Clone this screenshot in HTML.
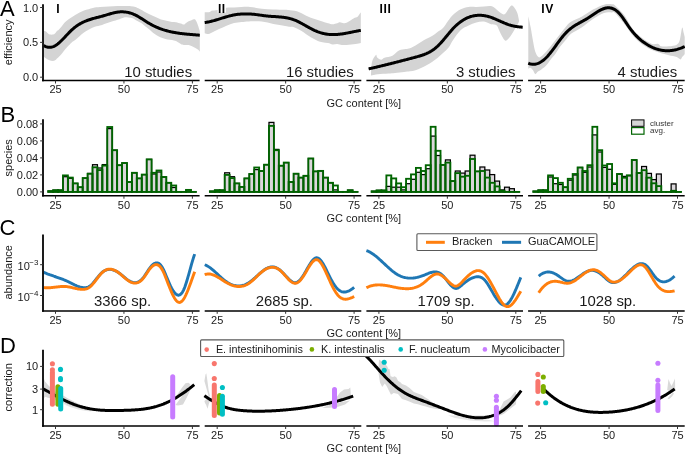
<!DOCTYPE html>
<html><head><meta charset="utf-8"><style>
html,body{margin:0;padding:0;background:#fff;}
body{width:685px;height:454px;overflow:hidden;}
svg{display:block;} svg{will-change:transform;}
</style></head><body>
<svg width="685" height="454" viewBox="0 0 685 454" font-family='&quot;Liberation Sans&quot;, sans-serif'>
<rect width="685" height="454" fill="#fff"/>
<path d="M43.50,30.50 C43.92,30.67 45.25,31.00 46.00,31.50 C46.75,32.00 47.33,32.98 48.00,33.50 C48.67,34.02 49.17,34.42 50.00,34.60 C50.83,34.78 52.17,34.78 53.00,34.60 C53.83,34.42 54.33,34.10 55.00,33.50 C55.67,32.90 56.42,31.58 57.00,31.00 C57.58,30.42 57.67,30.83 58.50,30.00 C59.33,29.17 60.68,27.48 62.00,26.00 C63.32,24.52 64.20,22.93 66.40,21.10 C68.60,19.27 72.27,16.75 75.20,15.00 C78.13,13.25 81.05,11.78 84.00,10.60 C86.95,9.42 90.23,8.50 92.90,7.90 C95.57,7.30 97.35,7.22 100.00,7.00 C102.65,6.78 105.87,6.77 108.80,6.60 C111.73,6.43 114.67,6.10 117.60,6.00 C120.53,5.90 124.17,5.97 126.40,6.00 C128.63,6.03 129.48,6.05 131.00,6.20 C132.52,6.35 134.28,6.55 135.50,6.90 C136.72,7.25 137.35,7.83 138.30,8.30 C139.25,8.77 140.25,9.18 141.20,9.70 C142.15,10.22 143.05,10.87 144.00,11.40 C144.95,11.93 145.90,12.38 146.90,12.90 C147.90,13.42 148.75,13.88 150.00,14.50 C151.25,15.12 152.93,15.95 154.40,16.60 C155.87,17.25 157.33,17.82 158.80,18.40 C160.27,18.98 161.73,19.67 163.20,20.10 C164.67,20.53 166.13,20.70 167.60,21.00 C169.07,21.30 170.60,21.70 172.00,21.90 C173.40,22.10 174.53,21.92 176.00,22.20 C177.47,22.48 179.50,23.20 180.80,23.60 C182.10,24.00 182.98,24.67 183.80,24.60 C184.62,24.53 184.90,23.77 185.70,23.20 C186.50,22.63 187.63,21.70 188.60,21.20 C189.57,20.70 190.60,20.52 191.50,20.20 C192.40,19.88 193.35,19.37 194.00,19.30 C194.65,19.23 194.85,19.08 195.40,19.80 C195.95,20.52 196.65,21.98 197.30,23.60 C197.95,25.22 198.88,28.20 199.30,29.50 C199.72,30.80 199.72,31.08 199.80,31.40 L199.80,51.30 C199.72,51.30 199.55,51.55 199.30,51.30 C199.05,51.05 198.95,50.37 198.30,49.80 C197.65,49.23 196.53,48.53 195.40,47.90 C194.27,47.27 192.63,46.48 191.50,46.00 C190.37,45.52 189.88,45.17 188.60,45.00 C187.32,44.83 185.10,45.17 183.80,45.00 C182.50,44.83 182.10,44.65 180.80,44.00 C179.50,43.35 177.47,41.77 176.00,41.10 C174.53,40.43 173.40,40.25 172.00,40.00 C170.60,39.75 169.07,39.90 167.60,39.60 C166.13,39.30 164.67,38.72 163.20,38.20 C161.73,37.68 160.27,37.23 158.80,36.50 C157.33,35.77 155.87,34.88 154.40,33.80 C152.93,32.72 151.25,31.05 150.00,30.00 C148.75,28.95 147.90,28.30 146.90,27.50 C145.90,26.70 144.95,25.97 144.00,25.20 C143.05,24.43 142.15,23.52 141.20,22.90 C140.25,22.28 139.25,21.98 138.30,21.50 C137.35,21.02 136.45,20.53 135.50,20.00 C134.55,19.47 133.80,18.70 132.60,18.30 C131.40,17.90 129.73,17.73 128.30,17.60 C126.87,17.47 125.78,17.13 124.00,17.50 C122.22,17.87 120.13,18.97 117.60,19.80 C115.07,20.63 111.73,21.53 108.80,22.50 C105.87,23.47 102.65,24.77 100.00,25.60 C97.35,26.43 95.57,26.35 92.90,27.50 C90.23,28.65 86.95,30.42 84.00,32.50 C81.05,34.58 77.20,38.38 75.20,40.00 C73.20,41.62 73.40,40.95 72.00,42.20 C70.60,43.45 68.55,45.53 66.80,47.50 C65.05,49.47 63.03,52.23 61.50,54.00 C59.97,55.77 58.83,56.97 57.60,58.10 C56.37,59.23 55.57,60.50 54.10,60.80 C52.63,61.10 50.57,60.63 48.80,59.90 C47.03,59.17 44.38,56.98 43.50,56.40 Z" fill="#d4d4d4" stroke="none"/>
<path d="M204.70,12.20 C205.55,12.15 208.67,12.15 209.80,11.90 C210.93,11.65 210.20,11.02 211.50,10.70 C212.80,10.38 215.12,10.50 217.60,10.00 C220.08,9.50 223.67,8.13 226.40,7.70 C229.13,7.27 231.48,7.52 234.00,7.40 C236.52,7.28 238.83,7.08 241.50,7.00 C244.17,6.92 246.63,6.62 250.00,6.90 C253.37,7.18 257.80,8.27 261.70,8.70 C265.60,9.13 269.52,9.32 273.40,9.50 C277.28,9.68 282.23,9.67 285.00,9.80 C287.77,9.93 288.40,10.13 290.00,10.30 C291.60,10.47 293.05,10.48 294.60,10.80 C296.15,11.12 297.75,11.58 299.30,12.20 C300.85,12.82 302.37,13.73 303.90,14.50 C305.43,15.27 306.97,16.12 308.50,16.80 C310.03,17.48 311.55,18.07 313.10,18.60 C314.65,19.13 316.25,19.53 317.80,20.00 C319.35,20.47 320.70,20.87 322.40,21.40 C324.10,21.93 326.30,22.73 328.00,23.20 C329.70,23.67 331.07,24.20 332.60,24.20 C334.13,24.20 335.97,23.52 337.20,23.20 C338.43,22.88 338.92,22.30 340.00,22.30 C341.08,22.30 342.62,23.12 343.70,23.20 C344.78,23.28 345.27,23.33 346.50,22.80 C347.73,22.27 349.87,20.77 351.10,20.00 C352.33,19.23 352.82,18.73 353.90,18.20 C354.98,17.67 356.60,17.58 357.60,16.80 C358.60,16.02 359.37,14.20 359.90,13.50 C360.43,12.80 360.65,12.75 360.80,12.60 L360.80,43.10 C359.95,43.25 357.32,43.77 355.70,44.00 C354.08,44.23 352.63,44.33 351.10,44.50 C349.57,44.67 348.03,44.92 346.50,45.00 C344.97,45.08 343.45,45.17 341.90,45.00 C340.35,44.83 338.75,44.08 337.20,44.00 C335.65,43.92 334.13,44.65 332.60,44.50 C331.07,44.35 329.70,43.47 328.00,43.10 C326.30,42.73 324.10,42.67 322.40,42.30 C320.70,41.93 319.35,41.52 317.80,40.90 C316.25,40.28 314.65,39.45 313.10,38.60 C311.55,37.75 310.03,36.82 308.50,35.80 C306.97,34.78 305.43,33.50 303.90,32.50 C302.37,31.50 300.85,30.65 299.30,29.80 C297.75,28.95 296.15,27.90 294.60,27.40 C293.05,26.90 291.60,27.05 290.00,26.80 C288.40,26.55 287.77,26.38 285.00,25.90 C282.23,25.42 277.28,24.63 273.40,23.90 C269.52,23.17 265.77,21.92 261.70,21.50 C257.63,21.08 252.37,21.32 249.00,21.40 C245.63,21.48 244.00,21.72 241.50,22.00 C239.00,22.28 236.50,22.48 234.00,23.10 C231.50,23.72 229.00,24.70 226.50,25.70 C224.00,26.70 221.50,27.92 219.00,29.10 C216.50,30.28 213.25,31.98 211.50,32.80 C209.75,33.62 209.63,33.93 208.50,34.00 C207.37,34.07 205.33,33.33 204.70,33.20 Z" fill="#d4d4d4" stroke="none"/>
<path d="M371.00,75.00 C371.17,72.83 371.18,65.33 372.00,62.00 C372.82,58.67 375.03,55.75 375.90,55.00 C376.77,54.25 376.32,56.72 377.20,57.50 C378.08,58.28 379.98,59.67 381.20,59.70 C382.42,59.73 382.63,58.37 384.50,57.70 C386.37,57.03 389.98,56.92 392.40,55.70 C394.82,54.48 396.80,51.50 399.00,50.40 C401.20,49.30 403.77,49.47 405.60,49.10 C407.43,48.73 408.35,48.82 410.00,48.20 C411.65,47.58 413.67,46.42 415.50,45.40 C417.33,44.38 419.17,43.20 421.00,42.10 C422.83,41.00 424.67,39.80 426.50,38.80 C428.33,37.80 430.17,37.23 432.00,36.10 C433.83,34.97 435.67,33.35 437.50,32.00 C439.33,30.65 441.25,29.83 443.00,28.00 C444.75,26.17 446.32,23.22 448.00,21.00 C449.68,18.78 450.97,16.65 453.10,14.70 C455.23,12.75 458.22,10.60 460.80,9.30 C463.38,8.00 466.02,7.30 468.60,6.90 C471.18,6.50 473.73,6.97 476.30,6.90 C478.87,6.83 481.55,6.63 484.00,6.50 C486.45,6.37 488.92,5.62 491.00,6.10 C493.08,6.58 494.67,8.12 496.50,9.40 C498.33,10.68 500.53,13.07 502.00,13.80 C503.47,14.53 504.20,14.63 505.30,13.80 C506.40,12.97 507.58,10.18 508.60,8.80 C509.62,7.42 510.48,5.77 511.40,5.50 C512.32,5.23 513.10,5.92 514.10,7.20 C515.10,8.48 516.57,10.92 517.40,13.20 C518.23,15.48 518.82,19.62 519.10,20.90 L519.10,20.90 C518.92,21.37 518.65,22.42 518.00,23.70 C517.35,24.98 516.22,26.87 515.20,28.60 C514.18,30.33 513.00,32.45 511.90,34.10 C510.80,35.75 509.70,37.40 508.60,38.50 C507.50,39.60 506.40,41.07 505.30,40.70 C504.20,40.33 503.00,37.95 502.00,36.30 C501.00,34.65 500.22,32.63 499.30,30.80 C498.38,28.97 497.88,26.40 496.50,25.30 C495.12,24.20 493.08,24.82 491.00,24.20 C488.92,23.58 486.45,21.90 484.00,21.60 C481.55,21.30 478.87,21.75 476.30,22.40 C473.73,23.05 471.18,24.22 468.60,25.50 C466.02,26.78 463.38,27.68 460.80,30.10 C458.22,32.52 455.13,37.08 453.10,40.00 C451.07,42.92 450.28,45.42 448.60,47.60 C446.92,49.78 444.85,51.35 443.00,53.10 C441.15,54.85 439.33,56.62 437.50,58.10 C435.67,59.58 433.83,60.80 432.00,62.00 C430.17,63.20 428.33,64.30 426.50,65.30 C424.67,66.30 422.83,67.18 421.00,68.00 C419.17,68.82 417.33,69.65 415.50,70.20 C413.67,70.75 411.92,71.00 410.00,71.30 C408.08,71.60 406.48,71.73 404.00,72.00 C401.52,72.27 397.70,72.63 395.10,72.90 C392.50,73.17 391.27,73.38 388.40,73.60 C385.53,73.82 380.80,73.88 377.90,74.20 C375.00,74.52 372.15,75.28 371.00,75.50 Z" fill="#d4d4d4" stroke="none"/>
<path d="M528.30,16.20 C528.68,18.00 529.82,22.88 530.60,27.00 C531.38,31.12 532.22,36.78 533.00,40.90 C533.78,45.02 534.40,49.00 535.30,51.70 C536.20,54.40 537.38,56.33 538.40,57.10 C539.42,57.87 540.12,57.20 541.40,56.30 C542.68,55.40 544.55,53.37 546.10,51.70 C547.65,50.03 549.17,48.22 550.70,46.30 C552.23,44.38 553.75,42.22 555.30,40.20 C556.85,38.18 558.30,36.37 560.00,34.20 C561.70,32.03 563.67,29.27 565.50,27.20 C567.33,25.13 568.25,23.57 571.00,21.80 C573.75,20.03 578.33,18.63 582.00,16.60 C585.67,14.57 589.33,11.58 593.00,9.60 C596.67,7.62 600.88,5.58 604.00,4.70 C607.12,3.82 609.87,4.18 611.70,4.30 C613.53,4.42 612.90,3.58 615.00,5.40 C617.10,7.22 621.22,11.08 624.30,15.20 C627.38,19.32 630.42,26.22 633.50,30.10 C636.58,33.98 639.72,36.20 642.80,38.50 C645.88,40.80 649.43,43.00 652.00,43.90 C654.57,44.80 656.65,43.50 658.20,43.90 C659.75,44.30 659.52,45.90 661.30,46.30 C663.08,46.70 666.33,46.57 668.90,46.30 C671.47,46.03 674.88,45.73 676.70,44.70 C678.52,43.67 678.90,42.92 679.80,40.10 C680.70,37.28 681.47,29.08 682.10,27.80 C682.73,26.52 683.17,30.87 683.60,32.40 C684.03,33.93 684.52,36.23 684.70,37.00 L684.70,54.00 C684.52,54.25 684.03,55.00 683.60,55.50 C683.17,56.00 682.62,56.35 682.10,57.00 C681.58,57.65 681.40,59.40 680.50,59.40 C679.60,59.40 678.63,57.70 676.70,57.00 C674.77,56.30 671.47,55.83 668.90,55.20 C666.33,54.57 664.12,54.05 661.30,53.20 C658.48,52.35 655.08,51.52 652.00,50.10 C648.92,48.68 645.88,47.02 642.80,44.70 C639.72,42.38 636.58,39.67 633.50,36.20 C630.42,32.73 627.38,27.75 624.30,23.90 C621.22,20.05 617.10,15.02 615.00,13.10 C612.90,11.18 613.53,12.43 611.70,12.40 C609.87,12.37 607.12,11.80 604.00,12.90 C600.88,14.00 596.67,16.62 593.00,19.00 C589.33,21.38 585.67,24.73 582.00,27.20 C578.33,29.67 573.75,31.62 571.00,33.80 C568.25,35.98 567.33,38.13 565.50,40.30 C563.67,42.47 561.70,44.52 560.00,46.80 C558.30,49.08 556.85,51.90 555.30,54.00 C553.75,56.10 552.23,57.47 550.70,59.40 C549.17,61.33 547.65,63.92 546.10,65.60 C544.55,67.28 542.82,68.47 541.40,69.50 C539.98,70.53 538.62,71.03 537.60,71.80 C536.58,72.57 536.07,74.37 535.30,74.10 C534.53,73.83 533.78,71.23 533.00,70.20 C532.22,69.17 531.38,68.15 530.60,67.90 C529.82,67.65 528.68,68.57 528.30,68.70 Z" fill="#d4d4d4" stroke="none"/>
<path d="M43.50,45.45 L44.25,45.88 L45.00,46.25 L45.75,46.57 L46.51,46.84 L47.26,47.05 L48.01,47.20 L48.76,47.30 L49.51,47.34 L50.26,47.32 L51.01,47.24 L51.77,47.10 L52.52,46.90 L53.27,46.64 L54.02,46.32 L54.77,45.93 L55.52,45.49 L56.27,45.00 L57.03,44.46 L57.78,43.88 L58.53,43.26 L59.28,42.61 L60.03,41.93 L60.78,41.22 L61.53,40.49 L62.29,39.74 L63.04,38.98 L63.79,38.20 L64.54,37.41 L65.29,36.61 L66.04,35.82 L66.79,35.02 L67.55,34.22 L68.30,33.44 L69.05,32.66 L69.80,31.90 L70.55,31.15 L71.30,30.42 L72.05,29.71 L72.81,29.04 L73.56,28.38 L74.31,27.76 L75.06,27.16 L75.81,26.59 L76.56,26.04 L77.31,25.52 L78.07,25.02 L78.82,24.54 L79.57,24.09 L80.32,23.65 L81.07,23.23 L81.82,22.83 L82.58,22.45 L83.33,22.09 L84.08,21.75 L84.83,21.41 L85.58,21.10 L86.33,20.80 L87.08,20.51 L87.84,20.23 L88.59,19.96 L89.34,19.71 L90.09,19.46 L90.84,19.22 L91.59,19.00 L92.34,18.77 L93.10,18.56 L93.85,18.35 L94.60,18.15 L95.35,17.94 L96.10,17.75 L96.85,17.55 L97.60,17.36 L98.36,17.17 L99.11,16.97 L99.86,16.78 L100.61,16.59 L101.36,16.39 L102.11,16.19 L102.86,15.98 L103.62,15.77 L104.37,15.56 L105.12,15.34 L105.87,15.11 L106.62,14.89 L107.37,14.66 L108.12,14.43 L108.88,14.20 L109.63,13.98 L110.38,13.76 L111.13,13.54 L111.88,13.33 L112.63,13.13 L113.38,12.94 L114.14,12.76 L114.89,12.59 L115.64,12.44 L116.39,12.30 L117.14,12.17 L117.89,12.07 L118.64,11.98 L119.40,11.91 L120.15,11.86 L120.90,11.83 L121.65,11.81 L122.40,11.82 L123.15,11.84 L123.90,11.88 L124.66,11.95 L125.41,12.03 L126.16,12.13 L126.91,12.25 L127.66,12.40 L128.41,12.56 L129.16,12.74 L129.92,12.94 L130.67,13.17 L131.42,13.41 L132.17,13.67 L132.92,13.96 L133.67,14.27 L134.42,14.59 L135.18,14.94 L135.93,15.31 L136.68,15.70 L137.43,16.11 L138.18,16.54 L138.93,16.98 L139.68,17.43 L140.44,17.89 L141.19,18.37 L141.94,18.84 L142.69,19.33 L143.44,19.81 L144.19,20.30 L144.94,20.78 L145.70,21.26 L146.45,21.74 L147.20,22.21 L147.95,22.67 L148.70,23.13 L149.45,23.57 L150.20,24.00 L150.96,24.43 L151.71,24.84 L152.46,25.23 L153.21,25.62 L153.96,25.99 L154.71,26.35 L155.46,26.70 L156.22,27.04 L156.97,27.37 L157.72,27.69 L158.47,28.00 L159.22,28.30 L159.97,28.59 L160.73,28.87 L161.48,29.13 L162.23,29.39 L162.98,29.65 L163.73,29.89 L164.48,30.12 L165.23,30.35 L165.99,30.56 L166.74,30.77 L167.49,30.97 L168.24,31.16 L168.99,31.35 L169.74,31.53 L170.49,31.70 L171.25,31.86 L172.00,32.02 L172.75,32.17 L173.50,32.32 L174.25,32.46 L175.00,32.59 L175.75,32.72 L176.51,32.85 L177.26,32.96 L178.01,33.08 L178.76,33.19 L179.51,33.29 L180.26,33.39 L181.01,33.49 L181.77,33.58 L182.52,33.67 L183.27,33.75 L184.02,33.83 L184.77,33.91 L185.52,33.99 L186.27,34.06 L187.03,34.14 L187.78,34.21 L188.53,34.27 L189.28,34.34 L190.03,34.40 L190.78,34.47 L191.53,34.53 L192.29,34.59 L193.04,34.65 L193.79,34.71 L194.54,34.77 L195.29,34.83 L196.04,34.89 L196.79,34.95 L197.55,35.01 L198.30,35.07 L199.05,35.13 L199.80,35.20" fill="none" stroke="#000" stroke-width="3" stroke-linecap="butt" stroke-linejoin="round"/>
<path d="M204.70,22.52 L205.45,22.42 L206.20,22.32 L206.95,22.19 L207.70,22.06 L208.45,21.92 L209.20,21.77 L209.95,21.60 L210.70,21.43 L211.45,21.25 L212.20,21.06 L212.96,20.87 L213.71,20.66 L214.46,20.46 L215.21,20.24 L215.96,20.02 L216.71,19.80 L217.46,19.57 L218.21,19.34 L218.96,19.11 L219.71,18.88 L220.46,18.65 L221.21,18.41 L221.96,18.18 L222.71,17.94 L223.46,17.71 L224.21,17.48 L224.96,17.25 L225.71,17.03 L226.46,16.80 L227.21,16.59 L227.96,16.38 L228.72,16.17 L229.47,15.97 L230.22,15.78 L230.97,15.60 L231.72,15.42 L232.47,15.25 L233.22,15.09 L233.97,14.94 L234.72,14.81 L235.47,14.68 L236.22,14.56 L236.97,14.46 L237.72,14.36 L238.47,14.27 L239.22,14.19 L239.97,14.13 L240.72,14.07 L241.47,14.02 L242.22,13.97 L242.97,13.94 L243.72,13.92 L244.48,13.90 L245.23,13.89 L245.98,13.89 L246.73,13.90 L247.48,13.92 L248.23,13.94 L248.98,13.97 L249.73,14.01 L250.48,14.05 L251.23,14.10 L251.98,14.15 L252.73,14.22 L253.48,14.29 L254.23,14.36 L254.98,14.44 L255.73,14.53 L256.48,14.62 L257.23,14.71 L257.98,14.81 L258.73,14.91 L259.49,15.01 L260.24,15.12 L260.99,15.23 L261.74,15.33 L262.49,15.44 L263.24,15.54 L263.99,15.64 L264.74,15.74 L265.49,15.83 L266.24,15.92 L266.99,16.01 L267.74,16.09 L268.49,16.16 L269.24,16.22 L269.99,16.28 L270.74,16.34 L271.49,16.39 L272.24,16.44 L272.99,16.49 L273.74,16.53 L274.49,16.58 L275.25,16.62 L276.00,16.67 L276.75,16.72 L277.50,16.77 L278.25,16.82 L279.00,16.88 L279.75,16.94 L280.50,17.01 L281.25,17.08 L282.00,17.16 L282.75,17.24 L283.50,17.33 L284.25,17.44 L285.00,17.55 L285.75,17.67 L286.50,17.80 L287.25,17.94 L288.00,18.09 L288.75,18.26 L289.50,18.44 L290.25,18.63 L291.01,18.84 L291.76,19.06 L292.51,19.30 L293.26,19.55 L294.01,19.83 L294.76,20.11 L295.51,20.42 L296.26,20.74 L297.01,21.08 L297.76,21.43 L298.51,21.80 L299.26,22.18 L300.01,22.57 L300.76,22.96 L301.51,23.37 L302.26,23.78 L303.01,24.20 L303.76,24.62 L304.51,25.04 L305.26,25.47 L306.01,25.90 L306.77,26.32 L307.52,26.75 L308.27,27.17 L309.02,27.58 L309.77,27.99 L310.52,28.40 L311.27,28.79 L312.02,29.18 L312.77,29.55 L313.52,29.92 L314.27,30.27 L315.02,30.61 L315.77,30.93 L316.52,31.24 L317.27,31.54 L318.02,31.83 L318.77,32.10 L319.52,32.36 L320.27,32.61 L321.02,32.84 L321.77,33.06 L322.53,33.26 L323.28,33.45 L324.03,33.63 L324.78,33.79 L325.53,33.94 L326.28,34.07 L327.03,34.19 L327.78,34.29 L328.53,34.38 L329.28,34.45 L330.03,34.51 L330.78,34.56 L331.53,34.59 L332.28,34.61 L333.03,34.62 L333.78,34.61 L334.53,34.60 L335.28,34.57 L336.03,34.53 L336.78,34.48 L337.54,34.43 L338.29,34.36 L339.04,34.28 L339.79,34.20 L340.54,34.11 L341.29,34.01 L342.04,33.91 L342.79,33.79 L343.54,33.67 L344.29,33.55 L345.04,33.42 L345.79,33.29 L346.54,33.15 L347.29,33.01 L348.04,32.87 L348.79,32.72 L349.54,32.57 L350.29,32.42 L351.04,32.27 L351.79,32.11 L352.54,31.96 L353.30,31.80 L354.05,31.65 L354.80,31.50 L355.55,31.35 L356.30,31.20 L357.05,31.05 L357.80,30.91 L358.55,30.76 L359.30,30.63 L360.05,30.49 L360.80,30.36" fill="none" stroke="#000" stroke-width="3" stroke-linecap="butt" stroke-linejoin="round"/>
<path d="M368.60,68.91 L369.35,68.74 L370.10,68.57 L370.86,68.40 L371.61,68.22 L372.36,68.05 L373.11,67.87 L373.86,67.70 L374.61,67.52 L375.37,67.34 L376.12,67.17 L376.87,66.99 L377.62,66.81 L378.37,66.63 L379.12,66.45 L379.88,66.27 L380.63,66.09 L381.38,65.91 L382.13,65.73 L382.88,65.54 L383.63,65.36 L384.39,65.18 L385.14,64.99 L385.89,64.81 L386.64,64.62 L387.39,64.44 L388.14,64.25 L388.90,64.06 L389.65,63.87 L390.40,63.69 L391.15,63.50 L391.90,63.31 L392.65,63.12 L393.41,62.93 L394.16,62.74 L394.91,62.55 L395.66,62.36 L396.41,62.16 L397.16,61.97 L397.92,61.78 L398.67,61.59 L399.42,61.39 L400.17,61.20 L400.92,61.01 L401.68,60.81 L402.43,60.62 L403.18,60.42 L403.93,60.23 L404.68,60.03 L405.43,59.83 L406.19,59.64 L406.94,59.44 L407.69,59.24 L408.44,59.04 L409.19,58.85 L409.94,58.65 L410.70,58.45 L411.45,58.25 L412.20,58.05 L412.95,57.85 L413.70,57.65 L414.45,57.45 L415.21,57.25 L415.96,57.05 L416.71,56.85 L417.46,56.64 L418.21,56.43 L418.96,56.22 L419.72,56.00 L420.47,55.77 L421.22,55.53 L421.97,55.29 L422.72,55.03 L423.47,54.77 L424.23,54.49 L424.98,54.19 L425.73,53.88 L426.48,53.56 L427.23,53.22 L427.98,52.86 L428.74,52.48 L429.49,52.08 L430.24,51.66 L430.99,51.22 L431.74,50.75 L432.50,50.26 L433.25,49.74 L434.00,49.20 L434.75,48.63 L435.50,48.03 L436.25,47.39 L437.01,46.73 L437.76,46.04 L438.51,45.31 L439.26,44.55 L440.01,43.77 L440.76,42.96 L441.52,42.13 L442.27,41.28 L443.02,40.42 L443.77,39.54 L444.52,38.64 L445.27,37.74 L446.03,36.84 L446.78,35.93 L447.53,35.02 L448.28,34.11 L449.03,33.20 L449.78,32.30 L450.54,31.42 L451.29,30.55 L452.04,29.69 L452.79,28.86 L453.54,28.06 L454.29,27.28 L455.05,26.53 L455.80,25.80 L456.55,25.10 L457.30,24.43 L458.05,23.79 L458.80,23.17 L459.56,22.57 L460.31,22.00 L461.06,21.46 L461.81,20.94 L462.56,20.44 L463.32,19.97 L464.07,19.53 L464.82,19.10 L465.57,18.70 L466.32,18.33 L467.07,17.98 L467.83,17.65 L468.58,17.34 L469.33,17.05 L470.08,16.79 L470.83,16.55 L471.58,16.33 L472.34,16.13 L473.09,15.96 L473.84,15.80 L474.59,15.67 L475.34,15.55 L476.09,15.46 L476.85,15.38 L477.60,15.33 L478.35,15.29 L479.10,15.28 L479.85,15.28 L480.60,15.30 L481.36,15.34 L482.11,15.40 L482.86,15.48 L483.61,15.57 L484.36,15.68 L485.11,15.81 L485.87,15.96 L486.62,16.12 L487.37,16.30 L488.12,16.49 L488.87,16.71 L489.62,16.93 L490.38,17.18 L491.13,17.43 L491.88,17.70 L492.63,17.98 L493.38,18.27 L494.14,18.57 L494.89,18.88 L495.64,19.20 L496.39,19.52 L497.14,19.85 L497.89,20.18 L498.65,20.51 L499.40,20.85 L500.15,21.18 L500.90,21.51 L501.65,21.85 L502.40,22.18 L503.16,22.50 L503.91,22.82 L504.66,23.14 L505.41,23.44 L506.16,23.74 L506.91,24.03 L507.67,24.30 L508.42,24.57 L509.17,24.82 L509.92,25.06 L510.67,25.28 L511.42,25.48 L512.18,25.68 L512.93,25.86 L513.68,26.02 L514.43,26.17 L515.18,26.32 L515.93,26.45 L516.69,26.57 L517.44,26.68 L518.19,26.78 L518.94,26.87 L519.69,26.96 L520.44,27.04 L521.20,27.11 L521.95,27.18 L522.70,27.24" fill="none" stroke="#000" stroke-width="3" stroke-linecap="butt" stroke-linejoin="round"/>
<path d="M528.30,63.22 L529.05,63.51 L529.80,63.76 L530.56,63.96 L531.31,64.11 L532.06,64.21 L532.81,64.27 L533.56,64.28 L534.32,64.24 L535.07,64.15 L535.82,64.02 L536.57,63.84 L537.32,63.62 L538.07,63.35 L538.83,63.04 L539.58,62.68 L540.33,62.28 L541.08,61.83 L541.83,61.34 L542.59,60.81 L543.34,60.23 L544.09,59.61 L544.84,58.95 L545.59,58.25 L546.35,57.50 L547.10,56.72 L547.85,55.90 L548.60,55.04 L549.35,54.15 L550.11,53.23 L550.86,52.29 L551.61,51.33 L552.36,50.34 L553.11,49.35 L553.87,48.33 L554.62,47.31 L555.37,46.28 L556.12,45.25 L556.87,44.22 L557.62,43.19 L558.38,42.16 L559.13,41.14 L559.88,40.14 L560.63,39.15 L561.38,38.17 L562.14,37.22 L562.89,36.29 L563.64,35.39 L564.39,34.51 L565.14,33.67 L565.90,32.87 L566.65,32.10 L567.40,31.37 L568.15,30.67 L568.90,30.00 L569.66,29.36 L570.41,28.75 L571.16,28.16 L571.91,27.60 L572.66,27.06 L573.42,26.54 L574.17,26.04 L574.92,25.56 L575.67,25.09 L576.42,24.63 L577.17,24.19 L577.93,23.76 L578.68,23.33 L579.43,22.91 L580.18,22.50 L580.93,22.09 L581.69,21.68 L582.44,21.27 L583.19,20.85 L583.94,20.44 L584.69,20.01 L585.45,19.58 L586.20,19.14 L586.95,18.69 L587.70,18.23 L588.45,17.75 L589.21,17.26 L589.96,16.76 L590.71,16.25 L591.46,15.74 L592.21,15.23 L592.97,14.72 L593.72,14.20 L594.47,13.70 L595.22,13.19 L595.97,12.70 L596.73,12.22 L597.48,11.75 L598.23,11.30 L598.98,10.86 L599.73,10.44 L600.48,10.05 L601.24,9.68 L601.99,9.33 L602.74,9.01 L603.49,8.73 L604.24,8.48 L605.00,8.26 L605.75,8.08 L606.50,7.94 L607.25,7.84 L608.00,7.79 L608.76,7.78 L609.51,7.82 L610.26,7.91 L611.01,8.05 L611.76,8.25 L612.52,8.50 L613.27,8.80 L614.02,9.17 L614.77,9.59 L615.52,10.07 L616.27,10.61 L617.03,11.21 L617.78,11.87 L618.53,12.60 L619.28,13.39 L620.03,14.25 L620.79,15.17 L621.54,16.14 L622.29,17.16 L623.04,18.22 L623.79,19.31 L624.55,20.41 L625.30,21.54 L626.05,22.67 L626.80,23.79 L627.55,24.91 L628.31,26.01 L629.06,27.08 L629.81,28.12 L630.56,29.13 L631.31,30.11 L632.07,31.06 L632.82,31.98 L633.57,32.87 L634.32,33.73 L635.07,34.56 L635.83,35.36 L636.58,36.14 L637.33,36.89 L638.08,37.62 L638.83,38.32 L639.58,39.00 L640.34,39.65 L641.09,40.28 L641.84,40.89 L642.59,41.47 L643.34,42.04 L644.10,42.58 L644.85,43.10 L645.60,43.61 L646.35,44.09 L647.10,44.56 L647.86,45.01 L648.61,45.44 L649.36,45.86 L650.11,46.26 L650.86,46.64 L651.62,47.00 L652.37,47.35 L653.12,47.68 L653.87,47.99 L654.62,48.28 L655.38,48.56 L656.13,48.82 L656.88,49.07 L657.63,49.29 L658.38,49.51 L659.13,49.70 L659.89,49.88 L660.64,50.04 L661.39,50.18 L662.14,50.31 L662.89,50.42 L663.65,50.51 L664.40,50.59 L665.15,50.65 L665.90,50.69 L666.65,50.72 L667.41,50.73 L668.16,50.72 L668.91,50.70 L669.66,50.66 L670.41,50.61 L671.17,50.53 L671.92,50.45 L672.67,50.34 L673.42,50.22 L674.17,50.09 L674.93,49.93 L675.68,49.77 L676.43,49.58 L677.18,49.38 L677.93,49.16 L678.68,48.93 L679.44,48.68 L680.19,48.42 L680.94,48.14 L681.69,47.84 L682.44,47.53 L683.20,47.20 L683.95,46.86 L684.70,46.50" fill="none" stroke="#000" stroke-width="3" stroke-linecap="butt" stroke-linejoin="round"/>
<rect x="48.20" y="191.10" width="4.92" height="0.80" fill="#dbd7db" stroke="#000" stroke-width="1.25"/>
<rect x="53.12" y="190.20" width="4.92" height="1.70" fill="#dbd7db" stroke="#000" stroke-width="1.25"/>
<rect x="58.05" y="190.20" width="4.92" height="1.70" fill="#dbd7db" stroke="#000" stroke-width="1.25"/>
<rect x="62.97" y="176.70" width="4.92" height="15.20" fill="#dbd7db" stroke="#000" stroke-width="1.25"/>
<rect x="67.89" y="178.30" width="4.92" height="13.60" fill="#dbd7db" stroke="#000" stroke-width="1.25"/>
<rect x="72.81" y="183.40" width="4.92" height="8.50" fill="#dbd7db" stroke="#000" stroke-width="1.25"/>
<rect x="77.74" y="187.20" width="4.92" height="4.70" fill="#dbd7db" stroke="#000" stroke-width="1.25"/>
<rect x="82.66" y="178.10" width="4.92" height="13.80" fill="#dbd7db" stroke="#000" stroke-width="1.25"/>
<rect x="87.58" y="173.40" width="4.92" height="18.50" fill="#dbd7db" stroke="#000" stroke-width="1.25"/>
<rect x="92.51" y="164.70" width="4.92" height="27.20" fill="#dbd7db" stroke="#000" stroke-width="1.25"/>
<rect x="97.43" y="168.00" width="4.92" height="23.90" fill="#dbd7db" stroke="#000" stroke-width="1.25"/>
<rect x="102.35" y="164.60" width="4.92" height="27.30" fill="#dbd7db" stroke="#000" stroke-width="1.25"/>
<rect x="107.28" y="128.60" width="4.92" height="63.30" fill="#dbd7db" stroke="#000" stroke-width="1.25"/>
<rect x="112.20" y="150.20" width="4.92" height="41.70" fill="#dbd7db" stroke="#000" stroke-width="1.25"/>
<rect x="117.12" y="165.20" width="4.92" height="26.70" fill="#dbd7db" stroke="#000" stroke-width="1.25"/>
<rect x="122.05" y="163.00" width="4.92" height="28.90" fill="#dbd7db" stroke="#000" stroke-width="1.25"/>
<rect x="126.97" y="182.00" width="4.92" height="9.90" fill="#dbd7db" stroke="#000" stroke-width="1.25"/>
<rect x="131.89" y="172.80" width="4.92" height="19.10" fill="#dbd7db" stroke="#000" stroke-width="1.25"/>
<rect x="136.81" y="178.40" width="4.92" height="13.50" fill="#dbd7db" stroke="#000" stroke-width="1.25"/>
<rect x="141.74" y="174.60" width="4.92" height="17.30" fill="#dbd7db" stroke="#000" stroke-width="1.25"/>
<rect x="146.66" y="159.40" width="4.92" height="32.50" fill="#dbd7db" stroke="#000" stroke-width="1.25"/>
<rect x="151.58" y="174.00" width="4.92" height="17.90" fill="#dbd7db" stroke="#000" stroke-width="1.25"/>
<rect x="156.51" y="172.00" width="4.92" height="19.90" fill="#dbd7db" stroke="#000" stroke-width="1.25"/>
<rect x="161.43" y="177.00" width="4.92" height="14.90" fill="#dbd7db" stroke="#000" stroke-width="1.25"/>
<rect x="166.35" y="182.80" width="4.92" height="9.10" fill="#dbd7db" stroke="#000" stroke-width="1.25"/>
<rect x="171.28" y="187.50" width="4.92" height="4.40" fill="#dbd7db" stroke="#000" stroke-width="1.25"/>
<rect x="176.20" y="191.90" width="4.92" height="0.01" fill="#dbd7db" stroke="#000" stroke-width="1.25"/>
<rect x="181.12" y="191.90" width="4.92" height="0.01" fill="#dbd7db" stroke="#000" stroke-width="1.25"/>
<rect x="186.04" y="189.90" width="4.92" height="2.00" fill="#dbd7db" stroke="#000" stroke-width="1.25"/>
<rect x="190.97" y="191.90" width="4.92" height="0.01" fill="#dbd7db" stroke="#000" stroke-width="1.25"/>
<rect x="48.20" y="191.10" width="4.92" height="0.80" fill="none" stroke="#006400" stroke-width="1.85"/>
<rect x="53.12" y="190.20" width="4.92" height="1.70" fill="none" stroke="#006400" stroke-width="1.85"/>
<rect x="58.05" y="190.20" width="4.92" height="1.70" fill="none" stroke="#006400" stroke-width="1.85"/>
<rect x="62.97" y="175.40" width="4.92" height="16.50" fill="none" stroke="#006400" stroke-width="1.85"/>
<rect x="67.89" y="177.60" width="4.92" height="14.30" fill="none" stroke="#006400" stroke-width="1.85"/>
<rect x="72.81" y="183.40" width="4.92" height="8.50" fill="none" stroke="#006400" stroke-width="1.85"/>
<rect x="77.74" y="187.20" width="4.92" height="4.70" fill="none" stroke="#006400" stroke-width="1.85"/>
<rect x="82.66" y="178.10" width="4.92" height="13.80" fill="none" stroke="#006400" stroke-width="1.85"/>
<rect x="87.58" y="173.80" width="4.92" height="18.10" fill="none" stroke="#006400" stroke-width="1.85"/>
<rect x="92.51" y="167.30" width="4.92" height="24.60" fill="none" stroke="#006400" stroke-width="1.85"/>
<rect x="97.43" y="170.10" width="4.92" height="21.80" fill="none" stroke="#006400" stroke-width="1.85"/>
<rect x="102.35" y="165.60" width="4.92" height="26.30" fill="none" stroke="#006400" stroke-width="1.85"/>
<rect x="107.28" y="127.00" width="4.92" height="64.90" fill="none" stroke="#006400" stroke-width="1.85"/>
<rect x="112.20" y="150.20" width="4.92" height="41.70" fill="none" stroke="#006400" stroke-width="1.85"/>
<rect x="117.12" y="165.20" width="4.92" height="26.70" fill="none" stroke="#006400" stroke-width="1.85"/>
<rect x="122.05" y="163.00" width="4.92" height="28.90" fill="none" stroke="#006400" stroke-width="1.85"/>
<rect x="126.97" y="182.00" width="4.92" height="9.90" fill="none" stroke="#006400" stroke-width="1.85"/>
<rect x="131.89" y="172.80" width="4.92" height="19.10" fill="none" stroke="#006400" stroke-width="1.85"/>
<rect x="136.81" y="178.40" width="4.92" height="13.50" fill="none" stroke="#006400" stroke-width="1.85"/>
<rect x="141.74" y="174.60" width="4.92" height="17.30" fill="none" stroke="#006400" stroke-width="1.85"/>
<rect x="146.66" y="159.40" width="4.92" height="32.50" fill="none" stroke="#006400" stroke-width="1.85"/>
<rect x="151.58" y="172.80" width="4.92" height="19.10" fill="none" stroke="#006400" stroke-width="1.85"/>
<rect x="156.51" y="170.50" width="4.92" height="21.40" fill="none" stroke="#006400" stroke-width="1.85"/>
<rect x="161.43" y="177.00" width="4.92" height="14.90" fill="none" stroke="#006400" stroke-width="1.85"/>
<rect x="166.35" y="182.80" width="4.92" height="9.10" fill="none" stroke="#006400" stroke-width="1.85"/>
<rect x="171.28" y="185.50" width="4.92" height="6.40" fill="none" stroke="#006400" stroke-width="1.85"/>
<rect x="176.20" y="191.90" width="4.92" height="0.01" fill="none" stroke="#006400" stroke-width="1.85"/>
<rect x="181.12" y="191.90" width="4.92" height="0.01" fill="none" stroke="#006400" stroke-width="1.85"/>
<rect x="186.04" y="189.90" width="4.92" height="2.00" fill="none" stroke="#006400" stroke-width="1.85"/>
<rect x="190.97" y="191.90" width="4.92" height="0.01" fill="none" stroke="#006400" stroke-width="1.85"/>
<rect x="209.90" y="191.30" width="4.92" height="0.60" fill="#dbd7db" stroke="#000" stroke-width="1.25"/>
<rect x="214.82" y="190.20" width="4.92" height="1.70" fill="#dbd7db" stroke="#000" stroke-width="1.25"/>
<rect x="219.75" y="190.20" width="4.92" height="1.70" fill="#dbd7db" stroke="#000" stroke-width="1.25"/>
<rect x="224.67" y="172.80" width="4.92" height="19.10" fill="#dbd7db" stroke="#000" stroke-width="1.25"/>
<rect x="229.59" y="176.70" width="4.92" height="15.20" fill="#dbd7db" stroke="#000" stroke-width="1.25"/>
<rect x="234.51" y="183.40" width="4.92" height="8.50" fill="#dbd7db" stroke="#000" stroke-width="1.25"/>
<rect x="239.44" y="186.90" width="4.92" height="5.00" fill="#dbd7db" stroke="#000" stroke-width="1.25"/>
<rect x="244.36" y="178.40" width="4.92" height="13.50" fill="#dbd7db" stroke="#000" stroke-width="1.25"/>
<rect x="249.28" y="174.00" width="4.92" height="17.90" fill="#dbd7db" stroke="#000" stroke-width="1.25"/>
<rect x="254.21" y="169.60" width="4.92" height="22.30" fill="#dbd7db" stroke="#000" stroke-width="1.25"/>
<rect x="259.13" y="171.00" width="4.92" height="20.90" fill="#dbd7db" stroke="#000" stroke-width="1.25"/>
<rect x="264.05" y="164.70" width="4.92" height="27.20" fill="#dbd7db" stroke="#000" stroke-width="1.25"/>
<rect x="268.98" y="122.40" width="4.92" height="69.50" fill="#dbd7db" stroke="#000" stroke-width="1.25"/>
<rect x="273.90" y="149.40" width="4.92" height="42.50" fill="#dbd7db" stroke="#000" stroke-width="1.25"/>
<rect x="278.82" y="165.70" width="4.92" height="26.20" fill="#dbd7db" stroke="#000" stroke-width="1.25"/>
<rect x="283.75" y="162.60" width="4.92" height="29.30" fill="#dbd7db" stroke="#000" stroke-width="1.25"/>
<rect x="288.67" y="182.00" width="4.92" height="9.90" fill="#dbd7db" stroke="#000" stroke-width="1.25"/>
<rect x="293.59" y="173.70" width="4.92" height="18.20" fill="#dbd7db" stroke="#000" stroke-width="1.25"/>
<rect x="298.51" y="177.60" width="4.92" height="14.30" fill="#dbd7db" stroke="#000" stroke-width="1.25"/>
<rect x="303.44" y="175.80" width="4.92" height="16.10" fill="#dbd7db" stroke="#000" stroke-width="1.25"/>
<rect x="308.36" y="158.50" width="4.92" height="33.40" fill="#dbd7db" stroke="#000" stroke-width="1.25"/>
<rect x="313.28" y="171.40" width="4.92" height="20.50" fill="#dbd7db" stroke="#000" stroke-width="1.25"/>
<rect x="318.21" y="170.90" width="4.92" height="21.00" fill="#dbd7db" stroke="#000" stroke-width="1.25"/>
<rect x="323.13" y="177.60" width="4.92" height="14.30" fill="#dbd7db" stroke="#000" stroke-width="1.25"/>
<rect x="328.05" y="182.80" width="4.92" height="9.10" fill="#dbd7db" stroke="#000" stroke-width="1.25"/>
<rect x="332.97" y="189.90" width="4.92" height="2.00" fill="#dbd7db" stroke="#000" stroke-width="1.25"/>
<rect x="337.90" y="191.90" width="4.92" height="0.01" fill="#dbd7db" stroke="#000" stroke-width="1.25"/>
<rect x="342.82" y="191.90" width="4.92" height="0.01" fill="#dbd7db" stroke="#000" stroke-width="1.25"/>
<rect x="347.74" y="190.20" width="4.92" height="1.70" fill="#dbd7db" stroke="#000" stroke-width="1.25"/>
<rect x="352.67" y="191.90" width="4.92" height="0.01" fill="#dbd7db" stroke="#000" stroke-width="1.25"/>
<rect x="209.90" y="191.30" width="4.92" height="0.60" fill="none" stroke="#006400" stroke-width="1.85"/>
<rect x="214.82" y="190.20" width="4.92" height="1.70" fill="none" stroke="#006400" stroke-width="1.85"/>
<rect x="219.75" y="190.20" width="4.92" height="1.70" fill="none" stroke="#006400" stroke-width="1.85"/>
<rect x="224.67" y="174.90" width="4.92" height="17.00" fill="none" stroke="#006400" stroke-width="1.85"/>
<rect x="229.59" y="178.10" width="4.92" height="13.80" fill="none" stroke="#006400" stroke-width="1.85"/>
<rect x="234.51" y="183.40" width="4.92" height="8.50" fill="none" stroke="#006400" stroke-width="1.85"/>
<rect x="239.44" y="186.90" width="4.92" height="5.00" fill="none" stroke="#006400" stroke-width="1.85"/>
<rect x="244.36" y="178.40" width="4.92" height="13.50" fill="none" stroke="#006400" stroke-width="1.85"/>
<rect x="249.28" y="174.00" width="4.92" height="17.90" fill="none" stroke="#006400" stroke-width="1.85"/>
<rect x="254.21" y="167.50" width="4.92" height="24.40" fill="none" stroke="#006400" stroke-width="1.85"/>
<rect x="259.13" y="171.00" width="4.92" height="20.90" fill="none" stroke="#006400" stroke-width="1.85"/>
<rect x="264.05" y="164.70" width="4.92" height="27.20" fill="none" stroke="#006400" stroke-width="1.85"/>
<rect x="268.98" y="125.90" width="4.92" height="66.00" fill="none" stroke="#006400" stroke-width="1.85"/>
<rect x="273.90" y="150.20" width="4.92" height="41.70" fill="none" stroke="#006400" stroke-width="1.85"/>
<rect x="278.82" y="165.70" width="4.92" height="26.20" fill="none" stroke="#006400" stroke-width="1.85"/>
<rect x="283.75" y="162.60" width="4.92" height="29.30" fill="none" stroke="#006400" stroke-width="1.85"/>
<rect x="288.67" y="182.00" width="4.92" height="9.90" fill="none" stroke="#006400" stroke-width="1.85"/>
<rect x="293.59" y="173.70" width="4.92" height="18.20" fill="none" stroke="#006400" stroke-width="1.85"/>
<rect x="298.51" y="177.60" width="4.92" height="14.30" fill="none" stroke="#006400" stroke-width="1.85"/>
<rect x="303.44" y="175.80" width="4.92" height="16.10" fill="none" stroke="#006400" stroke-width="1.85"/>
<rect x="308.36" y="158.50" width="4.92" height="33.40" fill="none" stroke="#006400" stroke-width="1.85"/>
<rect x="313.28" y="171.40" width="4.92" height="20.50" fill="none" stroke="#006400" stroke-width="1.85"/>
<rect x="318.21" y="170.90" width="4.92" height="21.00" fill="none" stroke="#006400" stroke-width="1.85"/>
<rect x="323.13" y="177.60" width="4.92" height="14.30" fill="none" stroke="#006400" stroke-width="1.85"/>
<rect x="328.05" y="182.80" width="4.92" height="9.10" fill="none" stroke="#006400" stroke-width="1.85"/>
<rect x="332.97" y="185.50" width="4.92" height="6.40" fill="none" stroke="#006400" stroke-width="1.85"/>
<rect x="337.90" y="191.90" width="4.92" height="0.01" fill="none" stroke="#006400" stroke-width="1.85"/>
<rect x="342.82" y="191.90" width="4.92" height="0.01" fill="none" stroke="#006400" stroke-width="1.85"/>
<rect x="347.74" y="190.20" width="4.92" height="1.70" fill="none" stroke="#006400" stroke-width="1.85"/>
<rect x="352.67" y="191.90" width="4.92" height="0.01" fill="none" stroke="#006400" stroke-width="1.85"/>
<rect x="371.60" y="191.30" width="4.92" height="0.60" fill="#dbd7db" stroke="#000" stroke-width="1.25"/>
<rect x="376.52" y="190.40" width="4.92" height="1.50" fill="#dbd7db" stroke="#000" stroke-width="1.25"/>
<rect x="381.45" y="190.40" width="4.92" height="1.50" fill="#dbd7db" stroke="#000" stroke-width="1.25"/>
<rect x="386.37" y="186.40" width="4.92" height="5.50" fill="#dbd7db" stroke="#000" stroke-width="1.25"/>
<rect x="391.29" y="187.20" width="4.92" height="4.70" fill="#dbd7db" stroke="#000" stroke-width="1.25"/>
<rect x="396.21" y="187.20" width="4.92" height="4.70" fill="#dbd7db" stroke="#000" stroke-width="1.25"/>
<rect x="401.14" y="189.90" width="4.92" height="2.00" fill="#dbd7db" stroke="#000" stroke-width="1.25"/>
<rect x="406.06" y="183.70" width="4.92" height="8.20" fill="#dbd7db" stroke="#000" stroke-width="1.25"/>
<rect x="410.98" y="179.30" width="4.92" height="12.60" fill="#dbd7db" stroke="#000" stroke-width="1.25"/>
<rect x="415.91" y="172.30" width="4.92" height="19.60" fill="#dbd7db" stroke="#000" stroke-width="1.25"/>
<rect x="420.83" y="174.60" width="4.92" height="17.30" fill="#dbd7db" stroke="#000" stroke-width="1.25"/>
<rect x="425.75" y="168.70" width="4.92" height="23.20" fill="#dbd7db" stroke="#000" stroke-width="1.25"/>
<rect x="430.68" y="136.10" width="4.92" height="55.80" fill="#dbd7db" stroke="#000" stroke-width="1.25"/>
<rect x="435.60" y="155.50" width="4.92" height="36.40" fill="#dbd7db" stroke="#000" stroke-width="1.25"/>
<rect x="440.52" y="164.90" width="4.92" height="27.00" fill="#dbd7db" stroke="#000" stroke-width="1.25"/>
<rect x="445.44" y="159.90" width="4.92" height="32.00" fill="#dbd7db" stroke="#000" stroke-width="1.25"/>
<rect x="450.37" y="181.00" width="4.92" height="10.90" fill="#dbd7db" stroke="#000" stroke-width="1.25"/>
<rect x="455.29" y="171.00" width="4.92" height="20.90" fill="#dbd7db" stroke="#000" stroke-width="1.25"/>
<rect x="460.21" y="173.10" width="4.92" height="18.80" fill="#dbd7db" stroke="#000" stroke-width="1.25"/>
<rect x="465.14" y="171.00" width="4.92" height="20.90" fill="#dbd7db" stroke="#000" stroke-width="1.25"/>
<rect x="470.06" y="155.20" width="4.92" height="36.70" fill="#dbd7db" stroke="#000" stroke-width="1.25"/>
<rect x="474.98" y="171.40" width="4.92" height="20.50" fill="#dbd7db" stroke="#000" stroke-width="1.25"/>
<rect x="479.91" y="167.00" width="4.92" height="24.90" fill="#dbd7db" stroke="#000" stroke-width="1.25"/>
<rect x="484.83" y="170.00" width="4.92" height="21.90" fill="#dbd7db" stroke="#000" stroke-width="1.25"/>
<rect x="489.75" y="174.60" width="4.92" height="17.30" fill="#dbd7db" stroke="#000" stroke-width="1.25"/>
<rect x="494.67" y="181.10" width="4.92" height="10.80" fill="#dbd7db" stroke="#000" stroke-width="1.25"/>
<rect x="499.60" y="189.90" width="4.92" height="2.00" fill="#dbd7db" stroke="#000" stroke-width="1.25"/>
<rect x="504.52" y="187.20" width="4.92" height="4.70" fill="#dbd7db" stroke="#000" stroke-width="1.25"/>
<rect x="509.44" y="188.70" width="4.92" height="3.20" fill="#dbd7db" stroke="#000" stroke-width="1.25"/>
<rect x="514.37" y="191.90" width="4.92" height="0.01" fill="#dbd7db" stroke="#000" stroke-width="1.25"/>
<rect x="371.60" y="191.30" width="4.92" height="0.60" fill="none" stroke="#006400" stroke-width="1.85"/>
<rect x="376.52" y="190.40" width="4.92" height="1.50" fill="none" stroke="#006400" stroke-width="1.85"/>
<rect x="381.45" y="190.40" width="4.92" height="1.50" fill="none" stroke="#006400" stroke-width="1.85"/>
<rect x="386.37" y="175.40" width="4.92" height="16.50" fill="none" stroke="#006400" stroke-width="1.85"/>
<rect x="391.29" y="178.40" width="4.92" height="13.50" fill="none" stroke="#006400" stroke-width="1.85"/>
<rect x="396.21" y="183.40" width="4.92" height="8.50" fill="none" stroke="#006400" stroke-width="1.85"/>
<rect x="401.14" y="187.20" width="4.92" height="4.70" fill="none" stroke="#006400" stroke-width="1.85"/>
<rect x="406.06" y="178.80" width="4.92" height="13.10" fill="none" stroke="#006400" stroke-width="1.85"/>
<rect x="410.98" y="174.40" width="4.92" height="17.50" fill="none" stroke="#006400" stroke-width="1.85"/>
<rect x="415.91" y="167.90" width="4.92" height="24.00" fill="none" stroke="#006400" stroke-width="1.85"/>
<rect x="420.83" y="171.00" width="4.92" height="20.90" fill="none" stroke="#006400" stroke-width="1.85"/>
<rect x="425.75" y="165.20" width="4.92" height="26.70" fill="none" stroke="#006400" stroke-width="1.85"/>
<rect x="430.68" y="126.80" width="4.92" height="65.10" fill="none" stroke="#006400" stroke-width="1.85"/>
<rect x="435.60" y="150.80" width="4.92" height="41.10" fill="none" stroke="#006400" stroke-width="1.85"/>
<rect x="440.52" y="164.90" width="4.92" height="27.00" fill="none" stroke="#006400" stroke-width="1.85"/>
<rect x="445.44" y="162.60" width="4.92" height="29.30" fill="none" stroke="#006400" stroke-width="1.85"/>
<rect x="450.37" y="181.10" width="4.92" height="10.80" fill="none" stroke="#006400" stroke-width="1.85"/>
<rect x="455.29" y="173.10" width="4.92" height="18.80" fill="none" stroke="#006400" stroke-width="1.85"/>
<rect x="460.21" y="176.70" width="4.92" height="15.20" fill="none" stroke="#006400" stroke-width="1.85"/>
<rect x="465.14" y="175.80" width="4.92" height="16.10" fill="none" stroke="#006400" stroke-width="1.85"/>
<rect x="470.06" y="159.00" width="4.92" height="32.90" fill="none" stroke="#006400" stroke-width="1.85"/>
<rect x="474.98" y="171.40" width="4.92" height="20.50" fill="none" stroke="#006400" stroke-width="1.85"/>
<rect x="479.91" y="171.00" width="4.92" height="20.90" fill="none" stroke="#006400" stroke-width="1.85"/>
<rect x="484.83" y="177.60" width="4.92" height="14.30" fill="none" stroke="#006400" stroke-width="1.85"/>
<rect x="489.75" y="182.80" width="4.92" height="9.10" fill="none" stroke="#006400" stroke-width="1.85"/>
<rect x="494.67" y="186.40" width="4.92" height="5.50" fill="none" stroke="#006400" stroke-width="1.85"/>
<rect x="499.60" y="190.80" width="4.92" height="1.10" fill="none" stroke="#006400" stroke-width="1.85"/>
<rect x="504.52" y="191.90" width="4.92" height="0.01" fill="none" stroke="#006400" stroke-width="1.85"/>
<rect x="509.44" y="191.90" width="4.92" height="0.01" fill="none" stroke="#006400" stroke-width="1.85"/>
<rect x="514.37" y="191.90" width="4.92" height="0.01" fill="none" stroke="#006400" stroke-width="1.85"/>
<rect x="533.30" y="191.30" width="4.92" height="0.60" fill="#dbd7db" stroke="#000" stroke-width="1.25"/>
<rect x="538.22" y="190.20" width="4.92" height="1.70" fill="#dbd7db" stroke="#000" stroke-width="1.25"/>
<rect x="543.15" y="190.20" width="4.92" height="1.70" fill="#dbd7db" stroke="#000" stroke-width="1.25"/>
<rect x="548.07" y="177.00" width="4.92" height="14.90" fill="#dbd7db" stroke="#000" stroke-width="1.25"/>
<rect x="552.99" y="183.70" width="4.92" height="8.20" fill="#dbd7db" stroke="#000" stroke-width="1.25"/>
<rect x="557.92" y="184.50" width="4.92" height="7.40" fill="#dbd7db" stroke="#000" stroke-width="1.25"/>
<rect x="562.84" y="187.20" width="4.92" height="4.70" fill="#dbd7db" stroke="#000" stroke-width="1.25"/>
<rect x="567.76" y="180.20" width="4.92" height="11.70" fill="#dbd7db" stroke="#000" stroke-width="1.25"/>
<rect x="572.68" y="175.00" width="4.92" height="16.90" fill="#dbd7db" stroke="#000" stroke-width="1.25"/>
<rect x="577.61" y="167.50" width="4.92" height="24.40" fill="#dbd7db" stroke="#000" stroke-width="1.25"/>
<rect x="582.53" y="172.30" width="4.92" height="19.60" fill="#dbd7db" stroke="#000" stroke-width="1.25"/>
<rect x="587.45" y="167.00" width="4.92" height="24.90" fill="#dbd7db" stroke="#000" stroke-width="1.25"/>
<rect x="592.38" y="134.90" width="4.92" height="57.00" fill="#dbd7db" stroke="#000" stroke-width="1.25"/>
<rect x="597.30" y="152.00" width="4.92" height="39.90" fill="#dbd7db" stroke="#000" stroke-width="1.25"/>
<rect x="602.22" y="167.40" width="4.92" height="24.50" fill="#dbd7db" stroke="#000" stroke-width="1.25"/>
<rect x="607.15" y="169.30" width="4.92" height="22.60" fill="#dbd7db" stroke="#000" stroke-width="1.25"/>
<rect x="612.07" y="184.30" width="4.92" height="7.60" fill="#dbd7db" stroke="#000" stroke-width="1.25"/>
<rect x="616.99" y="174.00" width="4.92" height="17.90" fill="#dbd7db" stroke="#000" stroke-width="1.25"/>
<rect x="621.91" y="176.40" width="4.92" height="15.50" fill="#dbd7db" stroke="#000" stroke-width="1.25"/>
<rect x="626.84" y="175.80" width="4.92" height="16.10" fill="#dbd7db" stroke="#000" stroke-width="1.25"/>
<rect x="631.76" y="160.00" width="4.92" height="31.90" fill="#dbd7db" stroke="#000" stroke-width="1.25"/>
<rect x="636.68" y="173.00" width="4.92" height="18.90" fill="#dbd7db" stroke="#000" stroke-width="1.25"/>
<rect x="641.61" y="166.50" width="4.92" height="25.40" fill="#dbd7db" stroke="#000" stroke-width="1.25"/>
<rect x="646.53" y="173.40" width="4.92" height="18.50" fill="#dbd7db" stroke="#000" stroke-width="1.25"/>
<rect x="651.45" y="179.60" width="4.92" height="12.30" fill="#dbd7db" stroke="#000" stroke-width="1.25"/>
<rect x="656.38" y="174.00" width="4.92" height="17.90" fill="#dbd7db" stroke="#000" stroke-width="1.25"/>
<rect x="661.30" y="191.90" width="4.92" height="0.01" fill="#dbd7db" stroke="#000" stroke-width="1.25"/>
<rect x="666.22" y="191.90" width="4.92" height="0.01" fill="#dbd7db" stroke="#000" stroke-width="1.25"/>
<rect x="671.14" y="183.90" width="4.92" height="8.00" fill="#dbd7db" stroke="#000" stroke-width="1.25"/>
<rect x="676.07" y="191.90" width="4.92" height="0.01" fill="#dbd7db" stroke="#000" stroke-width="1.25"/>
<rect x="533.30" y="191.30" width="4.92" height="0.60" fill="none" stroke="#006400" stroke-width="1.85"/>
<rect x="538.22" y="190.20" width="4.92" height="1.70" fill="none" stroke="#006400" stroke-width="1.85"/>
<rect x="543.15" y="190.20" width="4.92" height="1.70" fill="none" stroke="#006400" stroke-width="1.85"/>
<rect x="548.07" y="175.40" width="4.92" height="16.50" fill="none" stroke="#006400" stroke-width="1.85"/>
<rect x="552.99" y="178.10" width="4.92" height="13.80" fill="none" stroke="#006400" stroke-width="1.85"/>
<rect x="557.92" y="182.80" width="4.92" height="9.10" fill="none" stroke="#006400" stroke-width="1.85"/>
<rect x="562.84" y="187.20" width="4.92" height="4.70" fill="none" stroke="#006400" stroke-width="1.85"/>
<rect x="567.76" y="178.80" width="4.92" height="13.10" fill="none" stroke="#006400" stroke-width="1.85"/>
<rect x="572.68" y="174.00" width="4.92" height="17.90" fill="none" stroke="#006400" stroke-width="1.85"/>
<rect x="577.61" y="167.50" width="4.92" height="24.40" fill="none" stroke="#006400" stroke-width="1.85"/>
<rect x="582.53" y="171.00" width="4.92" height="20.90" fill="none" stroke="#006400" stroke-width="1.85"/>
<rect x="587.45" y="165.20" width="4.92" height="26.70" fill="none" stroke="#006400" stroke-width="1.85"/>
<rect x="592.38" y="126.80" width="4.92" height="65.10" fill="none" stroke="#006400" stroke-width="1.85"/>
<rect x="597.30" y="150.20" width="4.92" height="41.70" fill="none" stroke="#006400" stroke-width="1.85"/>
<rect x="602.22" y="165.50" width="4.92" height="26.40" fill="none" stroke="#006400" stroke-width="1.85"/>
<rect x="607.15" y="164.00" width="4.92" height="27.90" fill="none" stroke="#006400" stroke-width="1.85"/>
<rect x="612.07" y="183.30" width="4.92" height="8.60" fill="none" stroke="#006400" stroke-width="1.85"/>
<rect x="616.99" y="174.00" width="4.92" height="17.90" fill="none" stroke="#006400" stroke-width="1.85"/>
<rect x="621.91" y="177.70" width="4.92" height="14.20" fill="none" stroke="#006400" stroke-width="1.85"/>
<rect x="626.84" y="175.30" width="4.92" height="16.60" fill="none" stroke="#006400" stroke-width="1.85"/>
<rect x="631.76" y="160.00" width="4.92" height="31.90" fill="none" stroke="#006400" stroke-width="1.85"/>
<rect x="636.68" y="173.00" width="4.92" height="18.90" fill="none" stroke="#006400" stroke-width="1.85"/>
<rect x="641.61" y="170.20" width="4.92" height="21.70" fill="none" stroke="#006400" stroke-width="1.85"/>
<rect x="646.53" y="177.70" width="4.92" height="14.20" fill="none" stroke="#006400" stroke-width="1.85"/>
<rect x="651.45" y="183.30" width="4.92" height="8.60" fill="none" stroke="#006400" stroke-width="1.85"/>
<rect x="656.38" y="186.10" width="4.92" height="5.80" fill="none" stroke="#006400" stroke-width="1.85"/>
<rect x="661.30" y="191.90" width="4.92" height="0.01" fill="none" stroke="#006400" stroke-width="1.85"/>
<rect x="666.22" y="191.90" width="4.92" height="0.01" fill="none" stroke="#006400" stroke-width="1.85"/>
<rect x="671.14" y="190.80" width="4.92" height="1.10" fill="none" stroke="#006400" stroke-width="1.85"/>
<rect x="676.07" y="191.90" width="4.92" height="0.01" fill="none" stroke="#006400" stroke-width="1.85"/>
<rect x="631.6" y="119.9" width="12.4" height="6.4" fill="#d6d6d6" stroke="#000" stroke-width="1"/>
<rect x="631.6" y="127.6" width="12.4" height="6.6" fill="#fff" stroke="#006400" stroke-width="1.2"/>
<text x="650.00" y="126.30" font-size="8.00" text-anchor="start" font-weight="normal" fill="#333" >cluster</text>
<text x="650.00" y="133.10" font-size="8.00" text-anchor="start" font-weight="normal" fill="#333" >avg.</text>
<path d="M43.50,272.16 L44.25,272.51 L45.00,272.85 L45.76,273.18 L46.51,273.49 L47.26,273.80 L48.01,274.10 L48.77,274.38 L49.52,274.67 L50.27,274.94 L51.02,275.21 L51.77,275.47 L52.53,275.74 L53.28,275.99 L54.03,276.25 L54.78,276.50 L55.54,276.75 L56.29,277.01 L57.04,277.26 L57.79,277.52 L58.54,277.78 L59.30,278.04 L60.05,278.31 L60.80,278.58 L61.55,278.86 L62.31,279.14 L63.06,279.44 L63.81,279.74 L64.56,280.05 L65.31,280.37 L66.07,280.70 L66.82,281.05 L67.57,281.40 L68.32,281.77 L69.08,282.14 L69.83,282.52 L70.58,282.89 L71.33,283.27 L72.09,283.65 L72.84,284.02 L73.59,284.39 L74.34,284.75 L75.09,285.10 L75.85,285.43 L76.60,285.75 L77.35,286.05 L78.10,286.34 L78.86,286.60 L79.61,286.84 L80.36,287.05 L81.11,287.23 L81.86,287.39 L82.62,287.51 L83.37,287.59 L84.12,287.64 L84.87,287.65 L85.63,287.61 L86.38,287.51 L87.13,287.35 L87.88,287.10 L88.63,286.77 L89.39,286.34 L90.14,285.81 L90.89,285.19 L91.64,284.49 L92.40,283.72 L93.15,282.89 L93.90,282.01 L94.65,281.09 L95.40,280.15 L96.16,279.20 L96.91,278.24 L97.66,277.29 L98.41,276.35 L99.17,275.45 L99.92,274.59 L100.67,273.78 L101.42,273.03 L102.17,272.35 L102.93,271.75 L103.68,271.23 L104.43,270.77 L105.18,270.39 L105.94,270.07 L106.69,269.82 L107.44,269.63 L108.19,269.49 L108.94,269.42 L109.70,269.39 L110.45,269.42 L111.20,269.50 L111.95,269.63 L112.71,269.81 L113.46,270.04 L114.21,270.30 L114.96,270.62 L115.71,270.97 L116.47,271.36 L117.22,271.79 L117.97,272.25 L118.72,272.75 L119.48,273.28 L120.23,273.84 L120.98,274.43 L121.73,275.04 L122.49,275.67 L123.24,276.30 L123.99,276.94 L124.74,277.57 L125.49,278.19 L126.25,278.79 L127.00,279.37 L127.75,279.92 L128.50,280.43 L129.26,280.89 L130.01,281.31 L130.76,281.68 L131.51,281.99 L132.26,282.25 L133.02,282.44 L133.77,282.58 L134.52,282.64 L135.27,282.64 L136.03,282.57 L136.78,282.42 L137.53,282.20 L138.28,281.90 L139.03,281.51 L139.79,281.04 L140.54,280.48 L141.29,279.82 L142.04,279.07 L142.80,278.23 L143.55,277.28 L144.30,276.26 L145.05,275.16 L145.80,274.02 L146.56,272.86 L147.31,271.68 L148.06,270.52 L148.81,269.39 L149.57,268.31 L150.32,267.31 L151.07,266.38 L151.82,265.55 L152.57,264.81 L153.33,264.18 L154.08,263.66 L154.83,263.27 L155.58,263.00 L156.34,262.86 L157.09,262.87 L157.84,263.03 L158.59,263.34 L159.34,263.81 L160.10,264.46 L160.85,265.28 L161.60,266.29 L162.35,267.49 L163.11,268.88 L163.86,270.43 L164.61,272.11 L165.36,273.88 L166.11,275.71 L166.87,277.56 L167.62,279.39 L168.37,281.18 L169.12,282.91 L169.88,284.58 L170.63,286.16 L171.38,287.65 L172.13,289.04 L172.89,290.32 L173.64,291.47 L174.39,292.49 L175.14,293.37 L175.89,294.09 L176.65,294.64 L177.40,295.02 L178.15,295.21 L178.90,295.20 L179.66,294.98 L180.41,294.54 L181.16,293.86 L181.91,292.95 L182.66,291.78 L183.42,290.35 L184.17,288.66 L184.92,286.72 L185.67,284.57 L186.43,282.24 L187.18,279.77 L187.93,277.19 L188.68,274.52 L189.43,271.81 L190.19,269.08 L190.94,266.36 L191.69,263.69 L192.44,261.09 L193.20,258.61 L193.95,256.27 L194.70,254.11" fill="none" stroke="#1f77b4" stroke-width="2.9" stroke-linejoin="round"/>
<path d="M43.50,287.53 L44.25,287.63 L45.00,287.70 L45.76,287.75 L46.51,287.78 L47.26,287.79 L48.01,287.78 L48.77,287.76 L49.52,287.73 L50.27,287.68 L51.02,287.62 L51.77,287.55 L52.53,287.47 L53.28,287.39 L54.03,287.30 L54.78,287.21 L55.54,287.12 L56.29,287.03 L57.04,286.94 L57.79,286.85 L58.54,286.77 L59.30,286.70 L60.05,286.63 L60.80,286.57 L61.55,286.52 L62.31,286.49 L63.06,286.47 L63.81,286.47 L64.56,286.48 L65.31,286.51 L66.07,286.56 L66.82,286.64 L67.57,286.73 L68.32,286.85 L69.08,286.98 L69.83,287.13 L70.58,287.28 L71.33,287.45 L72.09,287.62 L72.84,287.80 L73.59,287.98 L74.34,288.15 L75.09,288.33 L75.85,288.50 L76.60,288.66 L77.35,288.81 L78.10,288.95 L78.86,289.07 L79.61,289.17 L80.36,289.25 L81.11,289.31 L81.86,289.35 L82.62,289.36 L83.37,289.33 L84.12,289.28 L84.87,289.19 L85.63,289.05 L86.38,288.86 L87.13,288.60 L87.88,288.27 L88.63,287.87 L89.39,287.37 L90.14,286.78 L90.89,286.10 L91.64,285.35 L92.40,284.53 L93.15,283.65 L93.90,282.73 L94.65,281.78 L95.40,280.80 L96.16,279.81 L96.91,278.81 L97.66,277.82 L98.41,276.85 L99.17,275.90 L99.92,275.00 L100.67,274.14 L101.42,273.33 L102.17,272.60 L102.93,271.94 L103.68,271.35 L104.43,270.83 L105.18,270.38 L105.94,270.00 L106.69,269.69 L107.44,269.44 L108.19,269.27 L108.94,269.16 L109.70,269.12 L110.45,269.14 L111.20,269.23 L111.95,269.37 L112.71,269.57 L113.46,269.81 L114.21,270.11 L114.96,270.46 L115.71,270.85 L116.47,271.28 L117.22,271.76 L117.97,272.26 L118.72,272.81 L119.48,273.38 L120.23,273.98 L120.98,274.60 L121.73,275.25 L122.49,275.90 L123.24,276.56 L123.99,277.22 L124.74,277.87 L125.49,278.51 L126.25,279.13 L127.00,279.72 L127.75,280.29 L128.50,280.81 L129.26,281.29 L130.01,281.71 L130.76,282.09 L131.51,282.41 L132.26,282.68 L133.02,282.89 L133.77,283.03 L134.52,283.10 L135.27,283.11 L136.03,283.05 L136.78,282.91 L137.53,282.70 L138.28,282.41 L139.03,282.03 L139.79,281.57 L140.54,281.02 L141.29,280.38 L142.04,279.65 L142.80,278.82 L143.55,277.90 L144.30,276.89 L145.05,275.82 L145.80,274.71 L146.56,273.58 L147.31,272.44 L148.06,271.32 L148.81,270.25 L149.57,269.23 L150.32,268.28 L151.07,267.43 L151.82,266.68 L152.57,266.03 L153.33,265.50 L154.08,265.08 L154.83,264.78 L155.58,264.62 L156.34,264.59 L157.09,264.70 L157.84,264.95 L158.59,265.36 L159.34,265.94 L160.10,266.67 L160.85,267.58 L161.60,268.67 L162.35,269.94 L163.11,271.39 L163.86,273.00 L164.61,274.74 L165.36,276.59 L166.11,278.50 L166.87,280.46 L167.62,282.44 L168.37,284.40 L169.12,286.34 L169.88,288.23 L170.63,290.07 L171.38,291.84 L172.13,293.52 L172.89,295.10 L173.64,296.56 L174.39,297.90 L175.14,299.09 L175.89,300.13 L176.65,301.00 L177.40,301.67 L178.15,302.15 L178.90,302.41 L179.66,302.44 L180.41,302.25 L181.16,301.83 L181.91,301.20 L182.66,300.37 L183.42,299.36 L184.17,298.18 L184.92,296.84 L185.67,295.35 L186.43,293.74 L187.18,292.01 L187.93,290.18 L188.68,288.27 L189.43,286.29 L190.19,284.25 L190.94,282.17 L191.69,280.07 L192.44,277.96 L193.20,275.85 L193.95,273.76 L194.70,271.71" fill="none" stroke="#ff7f0e" stroke-width="2.9" stroke-linejoin="round"/>
<path d="M204.70,264.73 L205.45,265.02 L206.20,265.36 L206.95,265.74 L207.71,266.17 L208.46,266.63 L209.21,267.12 L209.96,267.65 L210.71,268.21 L211.46,268.80 L212.21,269.40 L212.96,270.04 L213.72,270.68 L214.47,271.35 L215.22,272.03 L215.97,272.72 L216.72,273.41 L217.47,274.11 L218.22,274.81 L218.97,275.51 L219.73,276.21 L220.48,276.89 L221.23,277.57 L221.98,278.24 L222.73,278.89 L223.48,279.52 L224.23,280.14 L224.98,280.72 L225.74,281.29 L226.49,281.82 L227.24,282.32 L227.99,282.79 L228.74,283.22 L229.49,283.63 L230.24,284.00 L230.99,284.34 L231.75,284.65 L232.50,284.92 L233.25,285.16 L234.00,285.37 L234.75,285.55 L235.50,285.69 L236.25,285.80 L237.00,285.88 L237.76,285.92 L238.51,285.93 L239.26,285.91 L240.01,285.85 L240.76,285.76 L241.51,285.63 L242.26,285.47 L243.01,285.28 L243.77,285.05 L244.52,284.79 L245.27,284.50 L246.02,284.17 L246.77,283.80 L247.52,283.40 L248.27,282.97 L249.02,282.50 L249.78,282.00 L250.53,281.46 L251.28,280.89 L252.03,280.30 L252.78,279.69 L253.53,279.05 L254.28,278.40 L255.03,277.74 L255.79,277.07 L256.54,276.39 L257.29,275.71 L258.04,275.03 L258.79,274.36 L259.54,273.69 L260.29,273.04 L261.04,272.40 L261.80,271.78 L262.55,271.18 L263.30,270.61 L264.05,270.06 L264.80,269.54 L265.55,269.06 L266.30,268.62 L267.05,268.22 L267.81,267.87 L268.56,267.57 L269.31,267.31 L270.06,267.12 L270.81,266.98 L271.56,266.90 L272.31,266.88 L273.06,266.93 L273.82,267.03 L274.57,267.19 L275.32,267.42 L276.07,267.70 L276.82,268.04 L277.57,268.44 L278.32,268.90 L279.07,269.41 L279.83,269.98 L280.58,270.61 L281.33,271.29 L282.08,272.02 L282.83,272.77 L283.58,273.56 L284.33,274.36 L285.08,275.17 L285.84,275.99 L286.59,276.80 L287.34,277.59 L288.09,278.37 L288.84,279.11 L289.59,279.81 L290.34,280.47 L291.09,281.06 L291.85,281.58 L292.60,282.01 L293.35,282.35 L294.10,282.58 L294.85,282.70 L295.60,282.68 L296.35,282.52 L297.10,282.23 L297.86,281.80 L298.61,281.24 L299.36,280.57 L300.11,279.78 L300.86,278.90 L301.61,277.92 L302.36,276.86 L303.11,275.72 L303.87,274.51 L304.62,273.25 L305.37,271.95 L306.12,270.62 L306.87,269.29 L307.62,267.96 L308.37,266.66 L309.12,265.38 L309.88,264.16 L310.63,263.00 L311.38,261.92 L312.13,260.93 L312.88,260.05 L313.63,259.30 L314.38,258.68 L315.13,258.21 L315.89,257.91 L316.64,257.79 L317.39,257.86 L318.14,258.14 L318.89,258.59 L319.64,259.21 L320.39,259.98 L321.14,260.89 L321.90,261.93 L322.65,263.08 L323.40,264.33 L324.15,265.66 L324.90,267.05 L325.65,268.51 L326.40,270.01 L327.15,271.53 L327.91,273.07 L328.66,274.60 L329.41,276.12 L330.16,277.61 L330.91,279.06 L331.66,280.46 L332.41,281.79 L333.16,283.05 L333.92,284.24 L334.67,285.36 L335.42,286.40 L336.17,287.35 L336.92,288.23 L337.67,289.01 L338.42,289.70 L339.17,290.29 L339.93,290.80 L340.68,291.21 L341.43,291.54 L342.18,291.79 L342.93,291.96 L343.68,292.05 L344.43,292.07 L345.18,292.02 L345.94,291.90 L346.69,291.72 L347.44,291.48 L348.19,291.19 L348.94,290.84 L349.69,290.45 L350.44,290.02 L351.19,289.55 L351.95,289.05 L352.70,288.52 L353.45,287.96 L354.20,287.39" fill="none" stroke="#1f77b4" stroke-width="2.9" stroke-linejoin="round"/>
<path d="M204.70,274.75 L205.45,274.46 L206.20,274.24 L206.95,274.09 L207.71,273.99 L208.46,273.96 L209.21,273.98 L209.96,274.05 L210.71,274.18 L211.46,274.34 L212.21,274.55 L212.96,274.81 L213.72,275.09 L214.47,275.41 L215.22,275.77 L215.97,276.15 L216.72,276.55 L217.47,276.98 L218.22,277.42 L218.97,277.88 L219.73,278.35 L220.48,278.83 L221.23,279.31 L221.98,279.80 L222.73,280.28 L223.48,280.77 L224.23,281.24 L224.98,281.71 L225.74,282.16 L226.49,282.60 L227.24,283.02 L227.99,283.42 L228.74,283.79 L229.49,284.15 L230.24,284.49 L230.99,284.80 L231.75,285.09 L232.50,285.35 L233.25,285.59 L234.00,285.80 L234.75,285.98 L235.50,286.14 L236.25,286.27 L237.00,286.37 L237.76,286.44 L238.51,286.47 L239.26,286.48 L240.01,286.45 L240.76,286.39 L241.51,286.30 L242.26,286.17 L243.01,286.00 L243.77,285.80 L244.52,285.56 L245.27,285.28 L246.02,284.96 L246.77,284.60 L247.52,284.21 L248.27,283.77 L249.02,283.28 L249.78,282.76 L250.53,282.19 L251.28,281.59 L252.03,280.96 L252.78,280.30 L253.53,279.61 L254.28,278.91 L255.03,278.20 L255.79,277.47 L256.54,276.74 L257.29,276.01 L258.04,275.29 L258.79,274.57 L259.54,273.87 L260.29,273.19 L261.04,272.53 L261.80,271.90 L262.55,271.29 L263.30,270.73 L264.05,270.20 L264.80,269.72 L265.55,269.28 L266.30,268.88 L267.05,268.52 L267.81,268.21 L268.56,267.95 L269.31,267.73 L270.06,267.56 L270.81,267.43 L271.56,267.35 L272.31,267.32 L273.06,267.35 L273.82,267.43 L274.57,267.56 L275.32,267.75 L276.07,267.99 L276.82,268.30 L277.57,268.67 L278.32,269.10 L279.07,269.60 L279.83,270.16 L280.58,270.79 L281.33,271.49 L282.08,272.23 L282.83,273.02 L283.58,273.84 L284.33,274.68 L285.08,275.53 L285.84,276.39 L286.59,277.23 L287.34,278.06 L288.09,278.87 L288.84,279.63 L289.59,280.35 L290.34,281.02 L291.09,281.62 L291.85,282.14 L292.60,282.57 L293.35,282.91 L294.10,283.15 L294.85,283.26 L295.60,283.26 L296.35,283.12 L297.10,282.84 L297.86,282.44 L298.61,281.91 L299.36,281.28 L300.11,280.53 L300.86,279.69 L301.61,278.75 L302.36,277.73 L303.11,276.63 L303.87,275.47 L304.62,274.25 L305.37,272.99 L306.12,271.71 L306.87,270.42 L307.62,269.13 L308.37,267.87 L309.12,266.64 L309.88,265.46 L310.63,264.35 L311.38,263.32 L312.13,262.39 L312.88,261.56 L313.63,260.87 L314.38,260.31 L315.13,259.91 L315.89,259.68 L316.64,259.63 L317.39,259.78 L318.14,260.14 L318.89,260.68 L319.64,261.39 L320.39,262.27 L321.14,263.28 L321.90,264.43 L322.65,265.69 L323.40,267.06 L324.15,268.52 L324.90,270.05 L325.65,271.64 L326.40,273.28 L327.15,274.96 L327.91,276.65 L328.66,278.35 L329.41,280.03 L330.16,281.70 L330.91,283.33 L331.66,284.91 L332.41,286.43 L333.16,287.89 L333.92,289.28 L334.67,290.59 L335.42,291.82 L336.17,292.96 L336.92,294.01 L337.67,294.96 L338.42,295.80 L339.17,296.53 L339.93,297.17 L340.68,297.70 L341.43,298.15 L342.18,298.51 L342.93,298.79 L343.68,298.99 L344.43,299.12 L345.18,299.18 L345.94,299.18 L346.69,299.12 L347.44,299.01 L348.19,298.86 L348.94,298.66 L349.69,298.43 L350.44,298.17 L351.19,297.88 L351.95,297.57 L352.70,297.24 L353.45,296.90 L354.20,296.55" fill="none" stroke="#ff7f0e" stroke-width="2.9" stroke-linejoin="round"/>
<path d="M366.40,250.65 L367.15,250.91 L367.91,251.20 L368.66,251.53 L369.41,251.89 L370.17,252.29 L370.92,252.72 L371.67,253.18 L372.43,253.67 L373.18,254.18 L373.93,254.72 L374.68,255.29 L375.44,255.87 L376.19,256.47 L376.94,257.10 L377.70,257.73 L378.45,258.39 L379.20,259.05 L379.96,259.73 L380.71,260.42 L381.46,261.11 L382.22,261.81 L382.97,262.52 L383.72,263.22 L384.48,263.93 L385.23,264.64 L385.98,265.34 L386.74,266.04 L387.49,266.74 L388.24,267.42 L389.00,268.10 L389.75,268.77 L390.50,269.42 L391.25,270.06 L392.01,270.68 L392.76,271.29 L393.51,271.87 L394.27,272.44 L395.02,272.98 L395.77,273.49 L396.53,273.98 L397.28,274.45 L398.03,274.88 L398.79,275.28 L399.54,275.65 L400.29,276.00 L401.05,276.32 L401.80,276.61 L402.55,276.87 L403.31,277.11 L404.06,277.32 L404.81,277.51 L405.56,277.67 L406.32,277.81 L407.07,277.92 L407.82,278.01 L408.58,278.08 L409.33,278.12 L410.08,278.15 L410.84,278.15 L411.59,278.13 L412.34,278.09 L413.10,278.03 L413.85,277.95 L414.60,277.85 L415.36,277.73 L416.11,277.60 L416.86,277.45 L417.62,277.28 L418.37,277.09 L419.12,276.89 L419.88,276.67 L420.63,276.44 L421.38,276.19 L422.13,275.93 L422.89,275.65 L423.64,275.36 L424.39,275.06 L425.15,274.75 L425.90,274.44 L426.65,274.12 L427.41,273.81 L428.16,273.51 L428.91,273.23 L429.67,272.95 L430.42,272.71 L431.17,272.48 L431.93,272.29 L432.68,272.13 L433.43,272.01 L434.19,271.94 L434.94,271.91 L435.69,271.94 L436.44,272.02 L437.20,272.16 L437.95,272.37 L438.70,272.64 L439.46,272.99 L440.21,273.42 L440.96,273.93 L441.72,274.53 L442.47,275.22 L443.22,275.99 L443.98,276.83 L444.73,277.73 L445.48,278.67 L446.24,279.64 L446.99,280.62 L447.74,281.61 L448.50,282.58 L449.25,283.52 L450.00,284.42 L450.76,285.27 L451.51,286.04 L452.26,286.74 L453.01,287.34 L453.77,287.82 L454.52,288.19 L455.27,288.41 L456.03,288.48 L456.78,288.39 L457.53,288.16 L458.29,287.81 L459.04,287.36 L459.79,286.83 L460.55,286.23 L461.30,285.60 L462.05,284.93 L462.81,284.27 L463.56,283.62 L464.31,282.99 L465.07,282.39 L465.82,281.80 L466.57,281.24 L467.32,280.71 L468.08,280.21 L468.83,279.73 L469.58,279.28 L470.34,278.86 L471.09,278.48 L471.84,278.13 L472.60,277.81 L473.35,277.53 L474.10,277.29 L474.86,277.09 L475.61,276.93 L476.36,276.81 L477.12,276.73 L477.87,276.71 L478.62,276.75 L479.38,276.86 L480.13,277.03 L480.88,277.29 L481.64,277.64 L482.39,278.08 L483.14,278.62 L483.89,279.27 L484.65,280.03 L485.40,280.89 L486.15,281.85 L486.91,282.89 L487.66,284.00 L488.41,285.17 L489.17,286.39 L489.92,287.65 L490.67,288.94 L491.43,290.24 L492.18,291.55 L492.93,292.85 L493.69,294.14 L494.44,295.40 L495.19,296.63 L495.95,297.80 L496.70,298.92 L497.45,299.97 L498.20,300.94 L498.96,301.84 L499.71,302.64 L500.46,303.35 L501.22,303.95 L501.97,304.44 L502.72,304.81 L503.48,305.06 L504.23,305.16 L504.98,305.13 L505.74,304.94 L506.49,304.60 L507.24,304.09 L508.00,303.42 L508.75,302.61 L509.50,301.66 L510.26,300.57 L511.01,299.37 L511.76,298.06 L512.52,296.65 L513.27,295.15 L514.02,293.57 L514.77,291.92 L515.53,290.21 L516.28,288.45 L517.03,286.65 L517.79,284.81 L518.54,282.96 L519.29,281.09 L520.05,279.23 L520.80,277.37" fill="none" stroke="#1f77b4" stroke-width="2.9" stroke-linejoin="round"/>
<path d="M366.40,287.76 L367.15,287.39 L367.91,287.04 L368.66,286.73 L369.41,286.44 L370.17,286.18 L370.92,285.95 L371.67,285.74 L372.43,285.56 L373.18,285.40 L373.93,285.26 L374.68,285.15 L375.44,285.06 L376.19,284.99 L376.94,284.94 L377.70,284.90 L378.45,284.89 L379.20,284.89 L379.96,284.91 L380.71,284.94 L381.46,284.99 L382.22,285.05 L382.97,285.12 L383.72,285.21 L384.48,285.30 L385.23,285.41 L385.98,285.52 L386.74,285.65 L387.49,285.77 L388.24,285.91 L389.00,286.05 L389.75,286.20 L390.50,286.35 L391.25,286.50 L392.01,286.65 L392.76,286.80 L393.51,286.96 L394.27,287.11 L395.02,287.26 L395.77,287.41 L396.53,287.56 L397.28,287.70 L398.03,287.84 L398.79,287.97 L399.54,288.09 L400.29,288.20 L401.05,288.31 L401.80,288.40 L402.55,288.49 L403.31,288.56 L404.06,288.63 L404.81,288.67 L405.56,288.71 L406.32,288.73 L407.07,288.73 L407.82,288.72 L408.58,288.68 L409.33,288.63 L410.08,288.56 L410.84,288.47 L411.59,288.36 L412.34,288.23 L413.10,288.07 L413.85,287.89 L414.60,287.69 L415.36,287.45 L416.11,287.20 L416.86,286.91 L417.62,286.60 L418.37,286.25 L419.12,285.88 L419.88,285.48 L420.63,285.04 L421.38,284.57 L422.13,284.07 L422.89,283.53 L423.64,282.96 L424.39,282.35 L425.15,281.71 L425.90,281.05 L426.65,280.38 L427.41,279.70 L428.16,279.03 L428.91,278.36 L429.67,277.71 L430.42,277.08 L431.17,276.49 L431.93,275.94 L432.68,275.44 L433.43,275.00 L434.19,274.61 L434.94,274.30 L435.69,274.07 L436.44,273.93 L437.20,273.89 L437.95,273.94 L438.70,274.10 L439.46,274.36 L440.21,274.70 L440.96,275.12 L441.72,275.60 L442.47,276.13 L443.22,276.70 L443.98,277.31 L444.73,277.95 L445.48,278.62 L446.24,279.31 L446.99,280.02 L447.74,280.75 L448.50,281.47 L449.25,282.20 L450.00,282.92 L450.76,283.61 L451.51,284.25 L452.26,284.83 L453.01,285.33 L453.77,285.73 L454.52,286.02 L455.27,286.17 L456.03,286.18 L456.78,286.02 L457.53,285.73 L458.29,285.30 L459.04,284.78 L459.79,284.16 L460.55,283.47 L461.30,282.73 L462.05,281.95 L462.81,281.16 L463.56,280.36 L464.31,279.58 L465.07,278.80 L465.82,278.04 L466.57,277.30 L467.32,276.57 L468.08,275.87 L468.83,275.20 L469.58,274.56 L470.34,273.95 L471.09,273.39 L471.84,272.86 L472.60,272.38 L473.35,271.95 L474.10,271.58 L474.86,271.26 L475.61,271.00 L476.36,270.80 L477.12,270.67 L477.87,270.61 L478.62,270.62 L479.38,270.71 L480.13,270.88 L480.88,271.14 L481.64,271.48 L482.39,271.92 L483.14,272.45 L483.89,273.08 L484.65,273.81 L485.40,274.64 L486.15,275.55 L486.91,276.55 L487.66,277.62 L488.41,278.76 L489.17,279.96 L489.92,281.21 L490.67,282.51 L491.43,283.85 L492.18,285.22 L492.93,286.62 L493.69,288.04 L494.44,289.47 L495.19,290.91 L495.95,292.35 L496.70,293.78 L497.45,295.18 L498.20,296.56 L498.96,297.90 L499.71,299.18 L500.46,300.39 L501.22,301.54 L501.97,302.59 L502.72,303.55 L503.48,304.40 L504.23,305.13 L504.98,305.74 L505.74,306.19 L506.49,306.50 L507.24,306.65 L508.00,306.64 L508.75,306.48 L509.50,306.18 L510.26,305.75 L511.01,305.20 L511.76,304.54 L512.52,303.78 L513.27,302.92 L514.02,301.98 L514.77,300.97 L515.53,299.89 L516.28,298.75 L517.03,297.57 L517.79,296.35 L518.54,295.10 L519.29,293.83 L520.05,292.55 L520.80,291.26" fill="none" stroke="#ff7f0e" stroke-width="2.9" stroke-linejoin="round"/>
<path d="M538.70,276.18 L539.45,275.52 L540.20,274.92 L540.95,274.38 L541.70,273.90 L542.45,273.48 L543.20,273.11 L543.96,272.80 L544.71,272.54 L545.46,272.33 L546.21,272.18 L546.96,272.07 L547.71,272.02 L548.46,272.01 L549.21,272.05 L549.96,272.13 L550.71,272.26 L551.46,272.44 L552.21,272.65 L552.97,272.91 L553.72,273.21 L554.47,273.54 L555.22,273.92 L555.97,274.33 L556.72,274.77 L557.47,275.25 L558.22,275.75 L558.97,276.28 L559.72,276.81 L560.47,277.35 L561.22,277.88 L561.98,278.41 L562.73,278.91 L563.48,279.38 L564.23,279.82 L564.98,280.21 L565.73,280.56 L566.48,280.84 L567.23,281.06 L567.98,281.21 L568.73,281.27 L569.48,281.26 L570.23,281.17 L570.99,281.01 L571.74,280.79 L572.49,280.51 L573.24,280.19 L573.99,279.82 L574.74,279.42 L575.49,278.98 L576.24,278.51 L576.99,278.02 L577.74,277.51 L578.49,276.99 L579.24,276.45 L580.00,275.92 L580.75,275.38 L581.50,274.84 L582.25,274.32 L583.00,273.81 L583.75,273.31 L584.50,272.84 L585.25,272.40 L586.00,271.99 L586.75,271.62 L587.50,271.29 L588.25,271.00 L589.01,270.76 L589.76,270.58 L590.51,270.45 L591.26,270.37 L592.01,270.35 L592.76,270.38 L593.51,270.47 L594.26,270.61 L595.01,270.81 L595.76,271.07 L596.51,271.39 L597.26,271.76 L598.02,272.17 L598.77,272.63 L599.52,273.14 L600.27,273.68 L601.02,274.25 L601.77,274.86 L602.52,275.48 L603.27,276.14 L604.02,276.80 L604.77,277.49 L605.52,278.18 L606.27,278.87 L607.03,279.54 L607.78,280.18 L608.53,280.77 L609.28,281.30 L610.03,281.75 L610.78,282.11 L611.53,282.38 L612.28,282.55 L613.03,282.64 L613.78,282.65 L614.53,282.57 L615.28,282.42 L616.04,282.20 L616.79,281.92 L617.54,281.57 L618.29,281.17 L619.04,280.71 L619.79,280.21 L620.54,279.66 L621.29,279.07 L622.04,278.44 L622.79,277.78 L623.54,277.10 L624.29,276.39 L625.05,275.66 L625.80,274.92 L626.55,274.16 L627.30,273.40 L628.05,272.64 L628.80,271.88 L629.55,271.12 L630.30,270.38 L631.05,269.65 L631.80,268.94 L632.55,268.26 L633.30,267.60 L634.06,266.97 L634.81,266.39 L635.56,265.84 L636.31,265.35 L637.06,264.90 L637.81,264.51 L638.56,264.18 L639.31,263.92 L640.06,263.73 L640.81,263.62 L641.56,263.58 L642.31,263.63 L643.07,263.77 L643.82,264.01 L644.57,264.34 L645.32,264.78 L646.07,265.33 L646.82,265.99 L647.57,266.76 L648.32,267.63 L649.07,268.57 L649.82,269.58 L650.57,270.63 L651.32,271.70 L652.08,272.79 L652.83,273.85 L653.58,274.89 L654.33,275.89 L655.08,276.82 L655.83,277.68 L656.58,278.47 L657.33,279.18 L658.08,279.80 L658.83,280.34 L659.58,280.79 L660.33,281.16 L661.09,281.45 L661.84,281.67 L662.59,281.80 L663.34,281.87 L664.09,281.87 L664.84,281.80 L665.59,281.67 L666.34,281.48 L667.09,281.23 L667.84,280.92 L668.59,280.56 L669.34,280.15 L670.10,279.69 L670.85,279.19 L671.60,278.65 L672.35,278.06 L673.10,277.44 L673.85,276.78 L674.60,276.10" fill="none" stroke="#1f77b4" stroke-width="2.9" stroke-linejoin="round"/>
<path d="M538.70,292.69 L539.45,291.58 L540.20,290.53 L540.95,289.54 L541.70,288.62 L542.45,287.75 L543.20,286.95 L543.96,286.21 L544.71,285.53 L545.46,284.90 L546.21,284.32 L546.96,283.80 L547.71,283.34 L548.46,282.92 L549.21,282.55 L549.96,282.24 L550.71,281.97 L551.46,281.74 L552.21,281.56 L552.97,281.43 L553.72,281.34 L554.47,281.28 L555.22,281.27 L555.97,281.30 L556.72,281.36 L557.47,281.46 L558.22,281.59 L558.97,281.74 L559.72,281.91 L560.47,282.09 L561.22,282.27 L561.98,282.46 L562.73,282.64 L563.48,282.80 L564.23,282.95 L564.98,283.08 L565.73,283.17 L566.48,283.23 L567.23,283.24 L567.98,283.21 L568.73,283.12 L569.48,282.98 L570.23,282.79 L570.99,282.55 L571.74,282.26 L572.49,281.93 L573.24,281.55 L573.99,281.14 L574.74,280.69 L575.49,280.20 L576.24,279.69 L576.99,279.15 L577.74,278.60 L578.49,278.02 L579.24,277.44 L580.00,276.85 L580.75,276.25 L581.50,275.66 L582.25,275.07 L583.00,274.49 L583.75,273.92 L584.50,273.38 L585.25,272.85 L586.00,272.35 L586.75,271.89 L587.50,271.46 L588.25,271.06 L589.01,270.72 L589.76,270.42 L590.51,270.17 L591.26,269.97 L592.01,269.83 L592.76,269.74 L593.51,269.72 L594.26,269.76 L595.01,269.87 L595.76,270.05 L596.51,270.30 L597.26,270.62 L598.02,270.99 L598.77,271.42 L599.52,271.90 L600.27,272.43 L601.02,273.00 L601.77,273.61 L602.52,274.25 L603.27,274.91 L604.02,275.60 L604.77,276.30 L605.52,277.02 L606.27,277.74 L607.03,278.44 L607.78,279.12 L608.53,279.75 L609.28,280.33 L610.03,280.84 L610.78,281.26 L611.53,281.59 L612.28,281.84 L613.03,282.01 L613.78,282.10 L614.53,282.11 L615.28,282.05 L616.04,281.93 L616.79,281.74 L617.54,281.49 L618.29,281.18 L619.04,280.82 L619.79,280.41 L620.54,279.96 L621.29,279.46 L622.04,278.92 L622.79,278.35 L623.54,277.74 L624.29,277.11 L625.05,276.45 L625.80,275.77 L626.55,275.07 L627.30,274.36 L628.05,273.64 L628.80,272.91 L629.55,272.17 L630.30,271.44 L631.05,270.71 L631.80,269.98 L632.55,269.27 L633.30,268.58 L634.06,267.92 L634.81,267.30 L635.56,266.73 L636.31,266.21 L637.06,265.75 L637.81,265.37 L638.56,265.07 L639.31,264.85 L640.06,264.74 L640.81,264.72 L641.56,264.83 L642.31,265.05 L643.07,265.41 L643.82,265.90 L644.57,266.53 L645.32,267.27 L646.07,268.13 L646.82,269.09 L647.57,270.14 L648.32,271.27 L649.07,272.47 L649.82,273.72 L650.57,275.00 L651.32,276.29 L652.08,277.59 L652.83,278.88 L653.58,280.14 L654.33,281.35 L655.08,282.51 L655.83,283.61 L656.58,284.63 L657.33,285.59 L658.08,286.46 L658.83,287.25 L659.58,287.96 L660.33,288.60 L661.09,289.17 L661.84,289.66 L662.59,290.10 L663.34,290.46 L664.09,290.77 L664.84,291.03 L665.59,291.23 L666.34,291.39 L667.09,291.50 L667.84,291.57 L668.59,291.60 L669.34,291.59 L670.10,291.56 L670.85,291.49 L671.60,291.40 L672.35,291.30 L673.10,291.17 L673.85,291.03 L674.60,290.87" fill="none" stroke="#ff7f0e" stroke-width="2.9" stroke-linejoin="round"/>
<rect x="416.9" y="233.7" width="180.0" height="16.8" rx="1" fill="#fff" stroke="#595959" stroke-width="1.1"/>
<line x1="426.0" y1="242.3" x2="444.8" y2="242.3" stroke="#ff7f0e" stroke-width="3.0"/>
<line x1="502.0" y1="242.3" x2="521.1" y2="242.3" stroke="#1f77b4" stroke-width="3.0"/>
<text x="451.90" y="245.10" font-size="11.00" text-anchor="start" font-weight="normal" fill="#1a1a1a" >Bracken</text>
<text x="527.90" y="245.20" font-size="11.00" text-anchor="start" font-weight="normal" fill="#1a1a1a" >GuaCAMOLE</text>
<path d="M63.00,398.00 L70.00,401.00 L78.00,404.00 L86.00,406.50 L92.00,407.50 L63.00,404.00 L70.00,407.00 L78.00,409.50 L86.00,411.00 L92.00,411.50 Z" fill="#e6e6e6" stroke="none"/>
<path d="M448.00,411.50 L455.00,413.60 L470.00,415.80 L485.00,416.30 L495.00,415.20 L448.00,415.50 L455.00,417.90 L470.00,420.40 L485.00,421.60 L495.00,421.20 Z" fill="#e6e6e6" stroke="none"/>
<path d="M43.30,377.00 L45.00,381.50 L48.00,385.00 L52.00,389.00 L56.00,392.00 L60.00,394.50 L64.00,396.00 L68.00,398.50 L72.00,400.50 L78.00,403.50 L92.00,410.60 L86.00,410.00 L78.00,408.30 L70.00,406.00 L64.00,403.50 L60.00,401.50 L56.00,400.00 L52.00,398.50 L48.00,397.70 L45.00,396.70 L43.30,399.60 Z" fill="#d9d9d9" stroke="none"/>
<path d="M175.50,397.00 L179.00,392.00 L182.50,387.00 L185.50,383.30 L188.50,382.80 L190.50,384.50 L175.50,405.00 L178.00,405.50 L183.00,404.50 L186.00,399.00 L189.00,393.00 L191.00,388.50 Z" fill="#d9d9d9" stroke="none"/>
<path d="M204.40,381.00 L205.50,374.50 L206.30,373.20 L207.30,380.00 L208.60,390.00 L210.00,396.00 L204.40,401.00 L205.00,403.00 L206.20,405.00 L207.50,408.80 L208.80,404.00 L210.00,401.00 Z" fill="#d9d9d9" stroke="none"/>
<path d="M322.00,405.50 L329.00,401.50 L336.00,398.00 L340.00,392.50 L344.00,389.50 L348.50,389.00 L350.30,387.50 L350.80,394.00 L351.00,396.00 L322.00,408.00 L330.00,407.80 L338.00,406.80 L345.00,404.50 L350.00,400.50 Z" fill="#d9d9d9" stroke="none"/>
<path d="M379.10,359.50 L380.40,360.40 L383.00,362.00 L387.00,366.00 L388.50,369.20 L389.50,369.00 L390.60,376.30 L393.00,377.00 L394.50,376.30 L396.30,377.20 L398.00,380.70 L400.70,382.50 L402.00,384.00 L406.00,385.50 L409.90,388.30 L413.90,391.90 L417.90,393.50 L421.80,395.00 L425.80,397.80 L429.80,400.20 L433.70,403.40 L437.70,406.20 L441.00,408.30 L437.70,409.30 L433.70,408.50 L429.80,407.70 L425.80,406.50 L421.80,405.40 L417.90,404.20 L413.90,403.40 L409.90,401.80 L406.00,400.20 L402.00,399.00 L398.00,394.00 L393.70,393.10 L391.00,394.80 L389.20,391.30 L386.60,386.00 L384.80,383.50 L382.20,386.90 L380.00,382.50 L378.60,373.70 L378.60,364.80 Z" fill="#d9d9d9" stroke="none"/>
<path d="M499.20,410.50 L503.60,401.60 L507.20,399.40 L510.70,397.20 L514.20,392.80 L516.00,391.50 L516.40,397.20 L516.00,404.30 L512.50,406.90 L508.00,410.50 L503.60,414.00 L499.20,415.70 Z" fill="#d9d9d9" stroke="none"/>
<path d="M667.20,390.00 L668.50,379.00 L670.00,383.00 L671.50,386.00 L673.50,382.00 L675.00,378.50 L675.20,390.00 L667.50,398.50 L669.00,399.20 L672.00,396.50 L674.00,393.50 Z" fill="#d9d9d9" stroke="none"/>
<path d="M540.30,386.00 L542.00,385.00 L545.00,386.50 L540.30,390.00 L542.00,391.00 L545.00,392.00 Z" fill="#d9d9d9" stroke="none"/>
<path d="M42.80,388.71 L43.55,389.11 L44.31,389.51 L45.06,389.91 L45.81,390.32 L46.57,390.72 L47.32,391.13 L48.07,391.54 L48.83,391.96 L49.58,392.37 L50.33,392.78 L51.09,393.20 L51.84,393.61 L52.59,394.03 L53.35,394.44 L54.10,394.85 L54.85,395.26 L55.60,395.67 L56.36,396.08 L57.11,396.49 L57.86,396.89 L58.62,397.29 L59.37,397.69 L60.12,398.08 L60.88,398.48 L61.63,398.86 L62.38,399.25 L63.14,399.62 L63.89,400.00 L64.64,400.36 L65.40,400.73 L66.15,401.08 L66.90,401.43 L67.66,401.78 L68.41,402.11 L69.16,402.44 L69.92,402.77 L70.67,403.08 L71.42,403.39 L72.18,403.70 L72.93,403.99 L73.68,404.28 L74.44,404.56 L75.19,404.83 L75.94,405.10 L76.70,405.36 L77.45,405.62 L78.20,405.86 L78.96,406.10 L79.71,406.33 L80.46,406.56 L81.21,406.78 L81.97,406.99 L82.72,407.19 L83.47,407.39 L84.23,407.58 L84.98,407.76 L85.73,407.94 L86.49,408.11 L87.24,408.27 L87.99,408.43 L88.75,408.58 L89.50,408.72 L90.25,408.86 L91.01,408.98 L91.76,409.11 L92.51,409.22 L93.27,409.34 L94.02,409.44 L94.77,409.54 L95.53,409.63 L96.28,409.72 L97.03,409.80 L97.79,409.88 L98.54,409.96 L99.29,410.02 L100.05,410.09 L100.80,410.14 L101.55,410.20 L102.31,410.25 L103.06,410.29 L103.81,410.33 L104.57,410.37 L105.32,410.40 L106.07,410.43 L106.82,410.46 L107.58,410.48 L108.33,410.50 L109.08,410.52 L109.84,410.53 L110.59,410.54 L111.34,410.55 L112.10,410.55 L112.85,410.55 L113.60,410.55 L114.36,410.55 L115.11,410.54 L115.86,410.54 L116.62,410.53 L117.37,410.52 L118.12,410.51 L118.88,410.49 L119.63,410.48 L120.38,410.46 L121.14,410.44 L121.89,410.43 L122.64,410.41 L123.40,410.39 L124.15,410.37 L124.90,410.35 L125.66,410.32 L126.41,410.30 L127.16,410.28 L127.92,410.25 L128.67,410.22 L129.42,410.19 L130.18,410.16 L130.93,410.13 L131.68,410.09 L132.43,410.05 L133.19,410.01 L133.94,409.96 L134.69,409.92 L135.45,409.87 L136.20,409.81 L136.95,409.75 L137.71,409.69 L138.46,409.62 L139.21,409.55 L139.97,409.48 L140.72,409.40 L141.47,409.32 L142.23,409.23 L142.98,409.14 L143.73,409.04 L144.49,408.93 L145.24,408.82 L145.99,408.71 L146.75,408.58 L147.50,408.46 L148.25,408.32 L149.01,408.18 L149.76,408.04 L150.51,407.88 L151.27,407.72 L152.02,407.55 L152.77,407.38 L153.53,407.20 L154.28,407.01 L155.03,406.81 L155.79,406.60 L156.54,406.39 L157.29,406.16 L158.04,405.93 L158.80,405.69 L159.55,405.44 L160.30,405.18 L161.06,404.92 L161.81,404.64 L162.56,404.35 L163.32,404.06 L164.07,403.75 L164.82,403.44 L165.58,403.12 L166.33,402.79 L167.08,402.45 L167.84,402.10 L168.59,401.74 L169.34,401.37 L170.10,401.00 L170.85,400.61 L171.60,400.22 L172.36,399.82 L173.11,399.41 L173.86,398.99 L174.62,398.56 L175.37,398.13 L176.12,397.68 L176.88,397.23 L177.63,396.77 L178.38,396.31 L179.14,395.83 L179.89,395.34 L180.64,394.85 L181.40,394.35 L182.15,393.84 L182.90,393.33 L183.65,392.80 L184.41,392.27 L185.16,391.73 L185.91,391.19 L186.67,390.63 L187.42,390.07 L188.17,389.50 L188.93,388.92 L189.68,388.34 L190.43,387.75 L191.19,387.15 L191.94,386.54 L192.69,385.93 L193.45,385.31 L194.20,384.68" fill="none" stroke="#000" stroke-width="3.0" stroke-linejoin="round"/>
<path d="M204.40,395.65 L205.15,396.17 L205.90,396.68 L206.65,397.19 L207.41,397.70 L208.16,398.19 L208.91,398.68 L209.66,399.17 L210.41,399.64 L211.16,400.11 L211.92,400.57 L212.67,401.02 L213.42,401.47 L214.17,401.90 L214.92,402.33 L215.67,402.75 L216.42,403.16 L217.18,403.56 L217.93,403.94 L218.68,404.32 L219.43,404.69 L220.18,405.05 L220.93,405.39 L221.68,405.73 L222.44,406.05 L223.19,406.36 L223.94,406.66 L224.69,406.95 L225.44,407.22 L226.19,407.48 L226.95,407.73 L227.70,407.97 L228.45,408.19 L229.20,408.40 L229.95,408.60 L230.70,408.78 L231.45,408.96 L232.21,409.13 L232.96,409.28 L233.71,409.43 L234.46,409.57 L235.21,409.69 L235.96,409.81 L236.72,409.93 L237.47,410.03 L238.22,410.13 L238.97,410.22 L239.72,410.30 L240.47,410.38 L241.22,410.46 L241.98,410.53 L242.73,410.59 L243.48,410.65 L244.23,410.71 L244.98,410.76 L245.73,410.81 L246.48,410.86 L247.24,410.90 L247.99,410.95 L248.74,410.98 L249.49,411.02 L250.24,411.05 L250.99,411.08 L251.75,411.10 L252.50,411.13 L253.25,411.15 L254.00,411.16 L254.75,411.18 L255.50,411.19 L256.25,411.20 L257.01,411.20 L257.76,411.21 L258.51,411.21 L259.26,411.21 L260.01,411.20 L260.76,411.20 L261.52,411.19 L262.27,411.18 L263.02,411.17 L263.77,411.15 L264.52,411.13 L265.27,411.11 L266.02,411.09 L266.78,411.07 L267.53,411.04 L268.28,411.01 L269.03,410.98 L269.78,410.95 L270.53,410.92 L271.28,410.88 L272.04,410.84 L272.79,410.80 L273.54,410.76 L274.29,410.72 L275.04,410.68 L275.79,410.63 L276.55,410.58 L277.30,410.53 L278.05,410.48 L278.80,410.43 L279.55,410.38 L280.30,410.32 L281.05,410.27 L281.81,410.21 L282.56,410.15 L283.31,410.09 L284.06,410.03 L284.81,409.97 L285.56,409.90 L286.32,409.84 L287.07,409.77 L287.82,409.70 L288.57,409.63 L289.32,409.56 L290.07,409.49 L290.82,409.41 L291.58,409.34 L292.33,409.26 L293.08,409.18 L293.83,409.10 L294.58,409.02 L295.33,408.93 L296.08,408.85 L296.84,408.76 L297.59,408.67 L298.34,408.58 L299.09,408.49 L299.84,408.39 L300.59,408.30 L301.35,408.20 L302.10,408.10 L302.85,408.00 L303.60,407.89 L304.35,407.79 L305.10,407.68 L305.85,407.57 L306.61,407.46 L307.36,407.35 L308.11,407.24 L308.86,407.12 L309.61,407.00 L310.36,406.88 L311.12,406.76 L311.87,406.63 L312.62,406.51 L313.37,406.38 L314.12,406.25 L314.87,406.11 L315.62,405.98 L316.38,405.84 L317.13,405.70 L317.88,405.56 L318.63,405.42 L319.38,405.27 L320.13,405.12 L320.88,404.97 L321.64,404.82 L322.39,404.67 L323.14,404.51 L323.89,404.35 L324.64,404.19 L325.39,404.03 L326.15,403.86 L326.90,403.69 L327.65,403.52 L328.40,403.35 L329.15,403.17 L329.90,402.99 L330.65,402.81 L331.41,402.63 L332.16,402.44 L332.91,402.26 L333.66,402.06 L334.41,401.87 L335.16,401.68 L335.92,401.48 L336.67,401.28 L337.42,401.07 L338.17,400.87 L338.92,400.66 L339.67,400.45 L340.42,400.23 L341.18,400.02 L341.93,399.80 L342.68,399.57 L343.43,399.35 L344.18,399.12 L344.93,398.89 L345.68,398.66 L346.44,398.42 L347.19,398.18 L347.94,397.94 L348.69,397.70 L349.44,397.45 L350.19,397.20 L350.95,396.95 L351.70,396.69 L352.45,396.43 L353.20,396.17" fill="none" stroke="#000" stroke-width="3.0" stroke-linejoin="round"/>
<path d="M362.00,352.15 L362.75,352.80 L363.50,353.48 L364.25,354.17 L365.00,354.89 L365.75,355.62 L366.51,356.36 L367.26,357.12 L368.01,357.90 L368.76,358.69 L369.51,359.48 L370.26,360.29 L371.01,361.11 L371.76,361.94 L372.51,362.77 L373.26,363.61 L374.02,364.45 L374.77,365.30 L375.52,366.15 L376.27,367.00 L377.02,367.85 L377.77,368.70 L378.52,369.55 L379.27,370.39 L380.02,371.24 L380.77,372.07 L381.52,372.90 L382.28,373.72 L383.03,374.54 L383.78,375.34 L384.53,376.13 L385.28,376.92 L386.03,377.69 L386.78,378.45 L387.53,379.20 L388.28,379.94 L389.03,380.67 L389.78,381.38 L390.54,382.09 L391.29,382.78 L392.04,383.46 L392.79,384.13 L393.54,384.78 L394.29,385.43 L395.04,386.06 L395.79,386.67 L396.54,387.28 L397.29,387.86 L398.05,388.44 L398.80,389.00 L399.55,389.55 L400.30,390.08 L401.05,390.60 L401.80,391.10 L402.55,391.59 L403.30,392.06 L404.05,392.52 L404.80,392.96 L405.55,393.39 L406.31,393.80 L407.06,394.20 L407.81,394.59 L408.56,394.97 L409.31,395.34 L410.06,395.70 L410.81,396.04 L411.56,396.38 L412.31,396.71 L413.06,397.03 L413.82,397.35 L414.57,397.65 L415.32,397.96 L416.07,398.25 L416.82,398.54 L417.57,398.83 L418.32,399.11 L419.07,399.40 L419.82,399.67 L420.57,399.95 L421.32,400.23 L422.08,400.50 L422.83,400.78 L423.58,401.06 L424.33,401.33 L425.08,401.61 L425.83,401.89 L426.58,402.17 L427.33,402.45 L428.08,402.73 L428.83,403.02 L429.58,403.30 L430.34,403.58 L431.09,403.87 L431.84,404.15 L432.59,404.44 L433.34,404.72 L434.09,405.01 L434.84,405.30 L435.59,405.58 L436.34,405.87 L437.09,406.16 L437.85,406.45 L438.60,406.74 L439.35,407.03 L440.10,407.32 L440.85,407.61 L441.60,407.90 L442.35,408.19 L443.10,408.48 L443.85,408.77 L444.60,409.06 L445.35,409.35 L446.11,409.64 L446.86,409.93 L447.61,410.22 L448.36,410.50 L449.11,410.79 L449.86,411.07 L450.61,411.35 L451.36,411.63 L452.11,411.90 L452.86,412.17 L453.62,412.44 L454.37,412.71 L455.12,412.97 L455.87,413.23 L456.62,413.48 L457.37,413.73 L458.12,413.97 L458.87,414.21 L459.62,414.45 L460.37,414.67 L461.12,414.90 L461.88,415.11 L462.63,415.32 L463.38,415.53 L464.13,415.72 L464.88,415.91 L465.63,416.10 L466.38,416.27 L467.13,416.44 L467.88,416.60 L468.63,416.75 L469.38,416.89 L470.14,417.02 L470.89,417.15 L471.64,417.26 L472.39,417.37 L473.14,417.47 L473.89,417.55 L474.64,417.63 L475.39,417.69 L476.14,417.75 L476.89,417.79 L477.65,417.82 L478.40,417.84 L479.15,417.85 L479.90,417.84 L480.65,417.83 L481.40,417.80 L482.15,417.76 L482.90,417.70 L483.65,417.63 L484.40,417.55 L485.15,417.45 L485.91,417.34 L486.66,417.22 L487.41,417.08 L488.16,416.93 L488.91,416.76 L489.66,416.57 L490.41,416.37 L491.16,416.16 L491.91,415.92 L492.66,415.68 L493.42,415.41 L494.17,415.13 L494.92,414.83 L495.67,414.51 L496.42,414.18 L497.17,413.82 L497.92,413.45 L498.67,413.06 L499.42,412.64 L500.17,412.21 L500.92,411.75 L501.68,411.27 L502.43,410.77 L503.18,410.25 L503.93,409.70 L504.68,409.12 L505.43,408.53 L506.18,407.90 L506.93,407.25 L507.68,406.57 L508.43,405.87 L509.18,405.13 L509.94,404.37 L510.69,403.58 L511.44,402.77 L512.19,401.93 L512.94,401.06 L513.69,400.18 L514.44,399.28 L515.19,398.36 L515.94,397.42 L516.69,396.47 L517.45,395.51 L518.20,394.55 L518.95,393.57 L519.70,392.59 L520.45,391.60 L521.20,390.61" fill="none" stroke="#000" stroke-width="3.0" stroke-linejoin="round"/>
<path d="M543.80,389.22 L544.55,389.95 L545.30,390.67 L546.06,391.38 L546.81,392.07 L547.56,392.74 L548.31,393.40 L549.07,394.05 L549.82,394.68 L550.57,395.30 L551.32,395.90 L552.08,396.50 L552.83,397.07 L553.58,397.64 L554.33,398.19 L555.08,398.73 L555.84,399.26 L556.59,399.77 L557.34,400.27 L558.09,400.76 L558.85,401.24 L559.60,401.70 L560.35,402.15 L561.10,402.59 L561.86,403.02 L562.61,403.44 L563.36,403.84 L564.11,404.24 L564.86,404.62 L565.62,404.99 L566.37,405.35 L567.12,405.70 L567.87,406.04 L568.63,406.37 L569.38,406.69 L570.13,407.00 L570.88,407.30 L571.64,407.58 L572.39,407.86 L573.14,408.13 L573.89,408.39 L574.64,408.64 L575.40,408.88 L576.15,409.11 L576.90,409.33 L577.65,409.54 L578.41,409.74 L579.16,409.94 L579.91,410.12 L580.66,410.30 L581.41,410.47 L582.17,410.63 L582.92,410.79 L583.67,410.93 L584.42,411.07 L585.18,411.20 L585.93,411.32 L586.68,411.44 L587.43,411.54 L588.19,411.64 L588.94,411.74 L589.69,411.82 L590.44,411.90 L591.19,411.98 L591.95,412.05 L592.70,412.11 L593.45,412.16 L594.20,412.21 L594.96,412.25 L595.71,412.29 L596.46,412.32 L597.21,412.35 L597.97,412.37 L598.72,412.38 L599.47,412.39 L600.22,412.40 L600.97,412.40 L601.73,412.39 L602.48,412.38 L603.23,412.37 L603.98,412.35 L604.74,412.33 L605.49,412.30 L606.24,412.27 L606.99,412.24 L607.75,412.20 L608.50,412.16 L609.25,412.12 L610.00,412.07 L610.75,412.01 L611.51,411.96 L612.26,411.90 L613.01,411.83 L613.76,411.76 L614.52,411.69 L615.27,411.61 L616.02,411.53 L616.77,411.45 L617.53,411.36 L618.28,411.26 L619.03,411.16 L619.78,411.06 L620.53,410.95 L621.29,410.84 L622.04,410.73 L622.79,410.60 L623.54,410.48 L624.30,410.35 L625.05,410.21 L625.80,410.07 L626.55,409.93 L627.31,409.78 L628.06,409.63 L628.81,409.47 L629.56,409.31 L630.31,409.14 L631.07,408.96 L631.82,408.78 L632.57,408.60 L633.32,408.41 L634.08,408.22 L634.83,408.02 L635.58,407.82 L636.33,407.61 L637.09,407.39 L637.84,407.17 L638.59,406.95 L639.34,406.72 L640.09,406.48 L640.85,406.24 L641.60,405.99 L642.35,405.74 L643.10,405.48 L643.86,405.22 L644.61,404.95 L645.36,404.67 L646.11,404.39 L646.86,404.10 L647.62,403.81 L648.37,403.51 L649.12,403.21 L649.87,402.90 L650.63,402.58 L651.38,402.26 L652.13,401.93 L652.88,401.59 L653.64,401.25 L654.39,400.91 L655.14,400.55 L655.89,400.19 L656.64,399.83 L657.40,399.45 L658.15,399.08 L658.90,398.69 L659.65,398.30 L660.41,397.90 L661.16,397.50 L661.91,397.08 L662.66,396.67 L663.42,396.24 L664.17,395.81 L664.92,395.37 L665.67,394.93 L666.42,394.48 L667.18,394.02 L667.93,393.55 L668.68,393.08 L669.43,392.60 L670.19,392.12 L670.94,391.62 L671.69,391.12 L672.44,390.61 L673.20,390.10 L673.95,389.58 L674.70,389.05" fill="none" stroke="#000" stroke-width="3.0" stroke-linejoin="round"/>
<line x1="52.40" y1="372.60" x2="52.40" y2="404.30" stroke="#F8766D" stroke-width="5.0" stroke-linecap="round"/>
<circle cx="52.40" cy="363.80" r="2.55" fill="#F8766D"/>
<circle cx="52.40" cy="369.70" r="2.55" fill="#F8766D"/>
<line x1="57.90" y1="386.70" x2="57.90" y2="404.30" stroke="#7CAE00" stroke-width="5.0" stroke-linecap="round"/>
<circle cx="60.50" cy="369.40" r="2.55" fill="#00BFC4"/>
<line x1="60.50" y1="378.60" x2="60.50" y2="379.80" stroke="#00BFC4" stroke-width="5.0" stroke-linecap="round"/>
<line x1="60.70" y1="388.50" x2="60.70" y2="408.90" stroke="#00BFC4" stroke-width="5.0" stroke-linecap="round"/>
<line x1="172.70" y1="376.80" x2="172.70" y2="417.00" stroke="#C77CFF" stroke-width="5.0" stroke-linecap="round"/>
<line x1="214.30" y1="384.90" x2="214.30" y2="415.60" stroke="#F8766D" stroke-width="5.0" stroke-linecap="round"/>
<circle cx="214.30" cy="363.60" r="2.55" fill="#F8766D"/>
<circle cx="214.30" cy="378.50" r="2.55" fill="#F8766D"/>
<line x1="219.50" y1="395.50" x2="219.50" y2="412.90" stroke="#7CAE00" stroke-width="5.0" stroke-linecap="round"/>
<circle cx="222.40" cy="387.50" r="2.55" fill="#00BFC4"/>
<line x1="222.40" y1="396.20" x2="222.40" y2="414.30" stroke="#00BFC4" stroke-width="5.0" stroke-linecap="round"/>
<line x1="334.50" y1="389.40" x2="334.50" y2="406.40" stroke="#C77CFF" stroke-width="5.0" stroke-linecap="round"/>
<circle cx="384.20" cy="362.30" r="2.55" fill="#00BFC4"/>
<circle cx="384.20" cy="370.20" r="2.55" fill="#00BFC4"/>
<circle cx="496.40" cy="396.30" r="2.55" fill="#C77CFF"/>
<circle cx="496.40" cy="400.30" r="2.55" fill="#C77CFF"/>
<line x1="496.40" y1="407.20" x2="496.40" y2="424.00" stroke="#C77CFF" stroke-width="5.0" stroke-linecap="round"/>
<line x1="537.90" y1="381.50" x2="537.90" y2="391.50" stroke="#F8766D" stroke-width="5.0" stroke-linecap="round"/>
<circle cx="537.90" cy="374.40" r="2.55" fill="#F8766D"/>
<circle cx="537.70" cy="403.10" r="2.55" fill="#F8766D"/>
<line x1="543.30" y1="386.40" x2="543.30" y2="391.50" stroke="#7CAE00" stroke-width="5.0" stroke-linecap="round"/>
<circle cx="543.30" cy="377.00" r="2.55" fill="#7CAE00"/>
<circle cx="545.70" cy="402.80" r="2.55" fill="#00BFC4"/>
<line x1="657.90" y1="385.00" x2="657.90" y2="410.60" stroke="#C77CFF" stroke-width="5.0" stroke-linecap="round"/>
<circle cx="657.90" cy="363.20" r="2.55" fill="#C77CFF"/>
<circle cx="657.90" cy="380.30" r="2.55" fill="#C77CFF"/>
<rect x="200.6" y="339.9" width="363.2" height="16.6" rx="1" fill="#fff" stroke="#595959" stroke-width="1.1"/>
<circle cx="206.7" cy="349.6" r="2.3" fill="#F8766D"/>
<circle cx="311.9" cy="349.4" r="2.3" fill="#7CAE00"/>
<circle cx="400.7" cy="349.4" r="2.3" fill="#00BFC4"/>
<circle cx="484.9" cy="349.4" r="2.3" fill="#C77CFF"/>
<text x="215.90" y="352.70" font-size="10.80" text-anchor="start" font-weight="normal" fill="#1a1a1a" >E. intestinihominis</text>
<text x="321.10" y="352.70" font-size="10.80" text-anchor="start" font-weight="normal" fill="#1a1a1a" >K. intestinalis</text>
<text x="409.10" y="352.70" font-size="10.80" text-anchor="start" font-weight="normal" fill="#1a1a1a" >F. nucleatum</text>
<text x="491.50" y="352.70" font-size="10.80" text-anchor="start" font-weight="normal" fill="#1a1a1a" >Mycolicibacter</text>
<line x1="43" y1="4.20" x2="43" y2="81.35" stroke="#111" stroke-width="1.9"/>
<line x1="42.05" y1="80.60" x2="199.60" y2="80.60" stroke="#000" stroke-width="1.5"/>
<line x1="55.50" y1="80.60" x2="55.50" y2="83.50" stroke="#333" stroke-width="1"/>
<text x="55.50" y="93.40" font-size="11.00" text-anchor="middle" font-weight="normal" fill="#1a1a1a" >25</text>
<line x1="123.95" y1="80.60" x2="123.95" y2="83.50" stroke="#333" stroke-width="1"/>
<text x="123.95" y="93.40" font-size="11.00" text-anchor="middle" font-weight="normal" fill="#1a1a1a" >50</text>
<line x1="192.40" y1="80.60" x2="192.40" y2="83.50" stroke="#333" stroke-width="1"/>
<text x="192.40" y="93.40" font-size="11.00" text-anchor="middle" font-weight="normal" fill="#1a1a1a" >75</text>
<line x1="204.70" y1="80.60" x2="361.30" y2="80.60" stroke="#000" stroke-width="1.5"/>
<line x1="217.20" y1="80.60" x2="217.20" y2="83.50" stroke="#333" stroke-width="1"/>
<text x="217.20" y="93.40" font-size="11.00" text-anchor="middle" font-weight="normal" fill="#1a1a1a" >25</text>
<line x1="285.65" y1="80.60" x2="285.65" y2="83.50" stroke="#333" stroke-width="1"/>
<text x="285.65" y="93.40" font-size="11.00" text-anchor="middle" font-weight="normal" fill="#1a1a1a" >50</text>
<line x1="354.10" y1="80.60" x2="354.10" y2="83.50" stroke="#333" stroke-width="1"/>
<text x="354.10" y="93.40" font-size="11.00" text-anchor="middle" font-weight="normal" fill="#1a1a1a" >75</text>
<line x1="366.40" y1="80.60" x2="523.00" y2="80.60" stroke="#000" stroke-width="1.5"/>
<line x1="378.90" y1="80.60" x2="378.90" y2="83.50" stroke="#333" stroke-width="1"/>
<text x="378.90" y="93.40" font-size="11.00" text-anchor="middle" font-weight="normal" fill="#1a1a1a" >25</text>
<line x1="447.35" y1="80.60" x2="447.35" y2="83.50" stroke="#333" stroke-width="1"/>
<text x="447.35" y="93.40" font-size="11.00" text-anchor="middle" font-weight="normal" fill="#1a1a1a" >50</text>
<line x1="515.80" y1="80.60" x2="515.80" y2="83.50" stroke="#333" stroke-width="1"/>
<text x="515.80" y="93.40" font-size="11.00" text-anchor="middle" font-weight="normal" fill="#1a1a1a" >75</text>
<line x1="528.10" y1="80.60" x2="684.70" y2="80.60" stroke="#000" stroke-width="1.5"/>
<line x1="540.60" y1="80.60" x2="540.60" y2="83.50" stroke="#333" stroke-width="1"/>
<text x="540.60" y="93.40" font-size="11.00" text-anchor="middle" font-weight="normal" fill="#1a1a1a" >25</text>
<line x1="609.05" y1="80.60" x2="609.05" y2="83.50" stroke="#333" stroke-width="1"/>
<text x="609.05" y="93.40" font-size="11.00" text-anchor="middle" font-weight="normal" fill="#1a1a1a" >50</text>
<line x1="677.50" y1="80.60" x2="677.50" y2="83.50" stroke="#333" stroke-width="1"/>
<text x="677.50" y="93.40" font-size="11.00" text-anchor="middle" font-weight="normal" fill="#1a1a1a" >75</text>
<text x="363.85" y="106.50" font-size="11.00" text-anchor="middle" font-weight="normal" fill="#1a1a1a" >GC content [%]</text>
<line x1="43" y1="119.30" x2="43" y2="196.55" stroke="#111" stroke-width="1.9"/>
<line x1="42.05" y1="195.80" x2="199.60" y2="195.80" stroke="#000" stroke-width="1.5"/>
<line x1="55.50" y1="195.80" x2="55.50" y2="198.70" stroke="#333" stroke-width="1"/>
<text x="55.50" y="208.60" font-size="11.00" text-anchor="middle" font-weight="normal" fill="#1a1a1a" >25</text>
<line x1="123.95" y1="195.80" x2="123.95" y2="198.70" stroke="#333" stroke-width="1"/>
<text x="123.95" y="208.60" font-size="11.00" text-anchor="middle" font-weight="normal" fill="#1a1a1a" >50</text>
<line x1="192.40" y1="195.80" x2="192.40" y2="198.70" stroke="#333" stroke-width="1"/>
<text x="192.40" y="208.60" font-size="11.00" text-anchor="middle" font-weight="normal" fill="#1a1a1a" >75</text>
<line x1="204.70" y1="195.80" x2="361.30" y2="195.80" stroke="#000" stroke-width="1.5"/>
<line x1="217.20" y1="195.80" x2="217.20" y2="198.70" stroke="#333" stroke-width="1"/>
<text x="217.20" y="208.60" font-size="11.00" text-anchor="middle" font-weight="normal" fill="#1a1a1a" >25</text>
<line x1="285.65" y1="195.80" x2="285.65" y2="198.70" stroke="#333" stroke-width="1"/>
<text x="285.65" y="208.60" font-size="11.00" text-anchor="middle" font-weight="normal" fill="#1a1a1a" >50</text>
<line x1="354.10" y1="195.80" x2="354.10" y2="198.70" stroke="#333" stroke-width="1"/>
<text x="354.10" y="208.60" font-size="11.00" text-anchor="middle" font-weight="normal" fill="#1a1a1a" >75</text>
<line x1="366.40" y1="195.80" x2="523.00" y2="195.80" stroke="#000" stroke-width="1.5"/>
<line x1="378.90" y1="195.80" x2="378.90" y2="198.70" stroke="#333" stroke-width="1"/>
<text x="378.90" y="208.60" font-size="11.00" text-anchor="middle" font-weight="normal" fill="#1a1a1a" >25</text>
<line x1="447.35" y1="195.80" x2="447.35" y2="198.70" stroke="#333" stroke-width="1"/>
<text x="447.35" y="208.60" font-size="11.00" text-anchor="middle" font-weight="normal" fill="#1a1a1a" >50</text>
<line x1="515.80" y1="195.80" x2="515.80" y2="198.70" stroke="#333" stroke-width="1"/>
<text x="515.80" y="208.60" font-size="11.00" text-anchor="middle" font-weight="normal" fill="#1a1a1a" >75</text>
<line x1="528.10" y1="195.80" x2="684.70" y2="195.80" stroke="#000" stroke-width="1.5"/>
<line x1="540.60" y1="195.80" x2="540.60" y2="198.70" stroke="#333" stroke-width="1"/>
<text x="540.60" y="208.60" font-size="11.00" text-anchor="middle" font-weight="normal" fill="#1a1a1a" >25</text>
<line x1="609.05" y1="195.80" x2="609.05" y2="198.70" stroke="#333" stroke-width="1"/>
<text x="609.05" y="208.60" font-size="11.00" text-anchor="middle" font-weight="normal" fill="#1a1a1a" >50</text>
<line x1="677.50" y1="195.80" x2="677.50" y2="198.70" stroke="#333" stroke-width="1"/>
<text x="677.50" y="208.60" font-size="11.00" text-anchor="middle" font-weight="normal" fill="#1a1a1a" >75</text>
<text x="363.85" y="221.70" font-size="11.00" text-anchor="middle" font-weight="normal" fill="#1a1a1a" >GC content [%]</text>
<line x1="43" y1="234.50" x2="43" y2="311.65" stroke="#111" stroke-width="1.9"/>
<line x1="42.05" y1="310.90" x2="199.60" y2="310.90" stroke="#000" stroke-width="1.5"/>
<line x1="55.50" y1="310.90" x2="55.50" y2="313.80" stroke="#333" stroke-width="1"/>
<text x="55.50" y="323.70" font-size="11.00" text-anchor="middle" font-weight="normal" fill="#1a1a1a" >25</text>
<line x1="123.95" y1="310.90" x2="123.95" y2="313.80" stroke="#333" stroke-width="1"/>
<text x="123.95" y="323.70" font-size="11.00" text-anchor="middle" font-weight="normal" fill="#1a1a1a" >50</text>
<line x1="192.40" y1="310.90" x2="192.40" y2="313.80" stroke="#333" stroke-width="1"/>
<text x="192.40" y="323.70" font-size="11.00" text-anchor="middle" font-weight="normal" fill="#1a1a1a" >75</text>
<line x1="204.70" y1="310.90" x2="361.30" y2="310.90" stroke="#000" stroke-width="1.5"/>
<line x1="217.20" y1="310.90" x2="217.20" y2="313.80" stroke="#333" stroke-width="1"/>
<text x="217.20" y="323.70" font-size="11.00" text-anchor="middle" font-weight="normal" fill="#1a1a1a" >25</text>
<line x1="285.65" y1="310.90" x2="285.65" y2="313.80" stroke="#333" stroke-width="1"/>
<text x="285.65" y="323.70" font-size="11.00" text-anchor="middle" font-weight="normal" fill="#1a1a1a" >50</text>
<line x1="354.10" y1="310.90" x2="354.10" y2="313.80" stroke="#333" stroke-width="1"/>
<text x="354.10" y="323.70" font-size="11.00" text-anchor="middle" font-weight="normal" fill="#1a1a1a" >75</text>
<line x1="366.40" y1="310.90" x2="523.00" y2="310.90" stroke="#000" stroke-width="1.5"/>
<line x1="378.90" y1="310.90" x2="378.90" y2="313.80" stroke="#333" stroke-width="1"/>
<text x="378.90" y="323.70" font-size="11.00" text-anchor="middle" font-weight="normal" fill="#1a1a1a" >25</text>
<line x1="447.35" y1="310.90" x2="447.35" y2="313.80" stroke="#333" stroke-width="1"/>
<text x="447.35" y="323.70" font-size="11.00" text-anchor="middle" font-weight="normal" fill="#1a1a1a" >50</text>
<line x1="515.80" y1="310.90" x2="515.80" y2="313.80" stroke="#333" stroke-width="1"/>
<text x="515.80" y="323.70" font-size="11.00" text-anchor="middle" font-weight="normal" fill="#1a1a1a" >75</text>
<line x1="528.10" y1="310.90" x2="684.70" y2="310.90" stroke="#000" stroke-width="1.5"/>
<line x1="540.60" y1="310.90" x2="540.60" y2="313.80" stroke="#333" stroke-width="1"/>
<text x="540.60" y="323.70" font-size="11.00" text-anchor="middle" font-weight="normal" fill="#1a1a1a" >25</text>
<line x1="609.05" y1="310.90" x2="609.05" y2="313.80" stroke="#333" stroke-width="1"/>
<text x="609.05" y="323.70" font-size="11.00" text-anchor="middle" font-weight="normal" fill="#1a1a1a" >50</text>
<line x1="677.50" y1="310.90" x2="677.50" y2="313.80" stroke="#333" stroke-width="1"/>
<text x="677.50" y="323.70" font-size="11.00" text-anchor="middle" font-weight="normal" fill="#1a1a1a" >75</text>
<text x="363.85" y="336.80" font-size="11.00" text-anchor="middle" font-weight="normal" fill="#1a1a1a" >GC content [%]</text>
<line x1="43" y1="349.80" x2="43" y2="426.85" stroke="#111" stroke-width="1.9"/>
<line x1="42.05" y1="426.10" x2="199.60" y2="426.10" stroke="#000" stroke-width="1.5"/>
<line x1="55.50" y1="426.10" x2="55.50" y2="429.00" stroke="#333" stroke-width="1"/>
<text x="55.50" y="438.90" font-size="11.00" text-anchor="middle" font-weight="normal" fill="#1a1a1a" >25</text>
<line x1="123.95" y1="426.10" x2="123.95" y2="429.00" stroke="#333" stroke-width="1"/>
<text x="123.95" y="438.90" font-size="11.00" text-anchor="middle" font-weight="normal" fill="#1a1a1a" >50</text>
<line x1="192.40" y1="426.10" x2="192.40" y2="429.00" stroke="#333" stroke-width="1"/>
<text x="192.40" y="438.90" font-size="11.00" text-anchor="middle" font-weight="normal" fill="#1a1a1a" >75</text>
<line x1="204.70" y1="426.10" x2="361.30" y2="426.10" stroke="#000" stroke-width="1.5"/>
<line x1="217.20" y1="426.10" x2="217.20" y2="429.00" stroke="#333" stroke-width="1"/>
<text x="217.20" y="438.90" font-size="11.00" text-anchor="middle" font-weight="normal" fill="#1a1a1a" >25</text>
<line x1="285.65" y1="426.10" x2="285.65" y2="429.00" stroke="#333" stroke-width="1"/>
<text x="285.65" y="438.90" font-size="11.00" text-anchor="middle" font-weight="normal" fill="#1a1a1a" >50</text>
<line x1="354.10" y1="426.10" x2="354.10" y2="429.00" stroke="#333" stroke-width="1"/>
<text x="354.10" y="438.90" font-size="11.00" text-anchor="middle" font-weight="normal" fill="#1a1a1a" >75</text>
<line x1="366.40" y1="426.10" x2="523.00" y2="426.10" stroke="#000" stroke-width="1.5"/>
<line x1="378.90" y1="426.10" x2="378.90" y2="429.00" stroke="#333" stroke-width="1"/>
<text x="378.90" y="438.90" font-size="11.00" text-anchor="middle" font-weight="normal" fill="#1a1a1a" >25</text>
<line x1="447.35" y1="426.10" x2="447.35" y2="429.00" stroke="#333" stroke-width="1"/>
<text x="447.35" y="438.90" font-size="11.00" text-anchor="middle" font-weight="normal" fill="#1a1a1a" >50</text>
<line x1="515.80" y1="426.10" x2="515.80" y2="429.00" stroke="#333" stroke-width="1"/>
<text x="515.80" y="438.90" font-size="11.00" text-anchor="middle" font-weight="normal" fill="#1a1a1a" >75</text>
<line x1="528.10" y1="426.10" x2="684.70" y2="426.10" stroke="#000" stroke-width="1.5"/>
<line x1="540.60" y1="426.10" x2="540.60" y2="429.00" stroke="#333" stroke-width="1"/>
<text x="540.60" y="438.90" font-size="11.00" text-anchor="middle" font-weight="normal" fill="#1a1a1a" >25</text>
<line x1="609.05" y1="426.10" x2="609.05" y2="429.00" stroke="#333" stroke-width="1"/>
<text x="609.05" y="438.90" font-size="11.00" text-anchor="middle" font-weight="normal" fill="#1a1a1a" >50</text>
<line x1="677.50" y1="426.10" x2="677.50" y2="429.00" stroke="#333" stroke-width="1"/>
<text x="677.50" y="438.90" font-size="11.00" text-anchor="middle" font-weight="normal" fill="#1a1a1a" >75</text>
<text x="363.85" y="452.00" font-size="11.00" text-anchor="middle" font-weight="normal" fill="#1a1a1a" >GC content [%]</text>
<line x1="40.1" y1="7.50" x2="43" y2="7.50" stroke="#333" stroke-width="1"/>
<text x="38.20" y="11.50" font-size="11.00" text-anchor="end" font-weight="normal" fill="#1a1a1a" >1.0</text>
<line x1="40.1" y1="42.35" x2="43" y2="42.35" stroke="#333" stroke-width="1"/>
<text x="38.20" y="46.35" font-size="11.00" text-anchor="end" font-weight="normal" fill="#1a1a1a" >0.5</text>
<line x1="40.1" y1="77.20" x2="43" y2="77.20" stroke="#333" stroke-width="1"/>
<text x="38.20" y="81.20" font-size="11.00" text-anchor="end" font-weight="normal" fill="#1a1a1a" >0.0</text>
<line x1="40.1" y1="123.90" x2="43" y2="123.90" stroke="#333" stroke-width="1"/>
<text x="38.20" y="127.90" font-size="11.00" text-anchor="end" font-weight="normal" fill="#1a1a1a" >0.08</text>
<line x1="40.1" y1="140.90" x2="43" y2="140.90" stroke="#333" stroke-width="1"/>
<text x="38.20" y="144.90" font-size="11.00" text-anchor="end" font-weight="normal" fill="#1a1a1a" >0.06</text>
<line x1="40.1" y1="157.90" x2="43" y2="157.90" stroke="#333" stroke-width="1"/>
<text x="38.20" y="161.90" font-size="11.00" text-anchor="end" font-weight="normal" fill="#1a1a1a" >0.04</text>
<line x1="40.1" y1="174.90" x2="43" y2="174.90" stroke="#333" stroke-width="1"/>
<text x="38.20" y="178.90" font-size="11.00" text-anchor="end" font-weight="normal" fill="#1a1a1a" >0.02</text>
<line x1="40.1" y1="191.90" x2="43" y2="191.90" stroke="#333" stroke-width="1"/>
<text x="38.20" y="195.90" font-size="11.00" text-anchor="end" font-weight="normal" fill="#1a1a1a" >0.00</text>
<line x1="40.1" y1="366.40" x2="43" y2="366.40" stroke="#333" stroke-width="1"/>
<text x="38.20" y="370.40" font-size="11.00" text-anchor="end" font-weight="normal" fill="#1a1a1a" >10</text>
<line x1="40.1" y1="389.10" x2="43" y2="389.10" stroke="#333" stroke-width="1"/>
<text x="38.20" y="393.10" font-size="11.00" text-anchor="end" font-weight="normal" fill="#1a1a1a" >3</text>
<line x1="40.1" y1="409.70" x2="43" y2="409.70" stroke="#333" stroke-width="1"/>
<text x="38.20" y="413.70" font-size="11.00" text-anchor="end" font-weight="normal" fill="#1a1a1a" >1</text>
<line x1="40.1" y1="264.70" x2="43" y2="264.70" stroke="#333" stroke-width="1"/>
<text x="17.60" y="270.10" font-size="11.00" text-anchor="start" font-weight="normal" fill="#1a1a1a" >10</text>
<text x="29.30" y="264.80" font-size="8.00" text-anchor="start" font-weight="normal" fill="#1a1a1a" >&#8722;3</text>
<line x1="40.1" y1="295.50" x2="43" y2="295.50" stroke="#333" stroke-width="1"/>
<text x="17.60" y="300.90" font-size="11.00" text-anchor="start" font-weight="normal" fill="#1a1a1a" >10</text>
<text x="29.30" y="295.60" font-size="8.00" text-anchor="start" font-weight="normal" fill="#1a1a1a" >&#8722;4</text>
<text transform="translate(12.3,42.30) rotate(-90)" font-size="11" text-anchor="middle" fill="#1a1a1a">efficiency</text>
<text transform="translate(12.3,157.80) rotate(-90)" font-size="11" text-anchor="middle" fill="#1a1a1a">species</text>
<text transform="translate(12.3,272.30) rotate(-90)" font-size="11" text-anchor="middle" fill="#1a1a1a">abundance</text>
<text transform="translate(12.3,387.30) rotate(-90)" font-size="11" text-anchor="middle" fill="#1a1a1a">correction</text>
<text x="0.00" y="15.60" font-size="22.00" text-anchor="start" font-weight="normal" fill="#000" >A</text>
<text x="0.50" y="121.50" font-size="22.00" text-anchor="start" font-weight="normal" fill="#000" >B</text>
<text x="-0.50" y="235.30" font-size="22.00" text-anchor="start" font-weight="normal" fill="#000" >C</text>
<text x="0.00" y="352.60" font-size="22.00" text-anchor="start" font-weight="normal" fill="#000" >D</text>
<rect x="217.6" y="2.5" width="8.3" height="10.2" fill="#fff"/>
<text x="56.20" y="12.70" font-size="12.10" text-anchor="start" font-weight="bold" fill="#000" letter-spacing="0.6">I</text>
<text x="217.90" y="12.70" font-size="12.10" text-anchor="start" font-weight="bold" fill="#000" letter-spacing="0.6">II</text>
<text x="379.60" y="12.70" font-size="12.10" text-anchor="start" font-weight="bold" fill="#000" letter-spacing="0.6">III</text>
<text x="541.30" y="12.70" font-size="12.10" text-anchor="start" font-weight="bold" fill="#000" letter-spacing="0.6">IV</text>
<text x="192.10" y="76.70" font-size="14.90" text-anchor="end" font-weight="normal" fill="#1a1a1a" >10 studies</text>
<text x="353.80" y="76.70" font-size="14.90" text-anchor="end" font-weight="normal" fill="#1a1a1a" >16 studies</text>
<text x="515.50" y="76.70" font-size="14.90" text-anchor="end" font-weight="normal" fill="#1a1a1a" >3 studies</text>
<text x="677.20" y="76.70" font-size="14.90" text-anchor="end" font-weight="normal" fill="#1a1a1a" >4 studies</text>
<text x="122.60" y="306.20" font-size="14.90" text-anchor="middle" font-weight="normal" fill="#1a1a1a" >3366 sp.</text>
<text x="284.30" y="306.20" font-size="14.90" text-anchor="middle" font-weight="normal" fill="#1a1a1a" >2685 sp.</text>
<text x="446.00" y="306.20" font-size="14.90" text-anchor="middle" font-weight="normal" fill="#1a1a1a" >1709 sp.</text>
<text x="607.70" y="306.20" font-size="14.90" text-anchor="middle" font-weight="normal" fill="#1a1a1a" >1028 sp.</text>
</svg>
</body></html>
